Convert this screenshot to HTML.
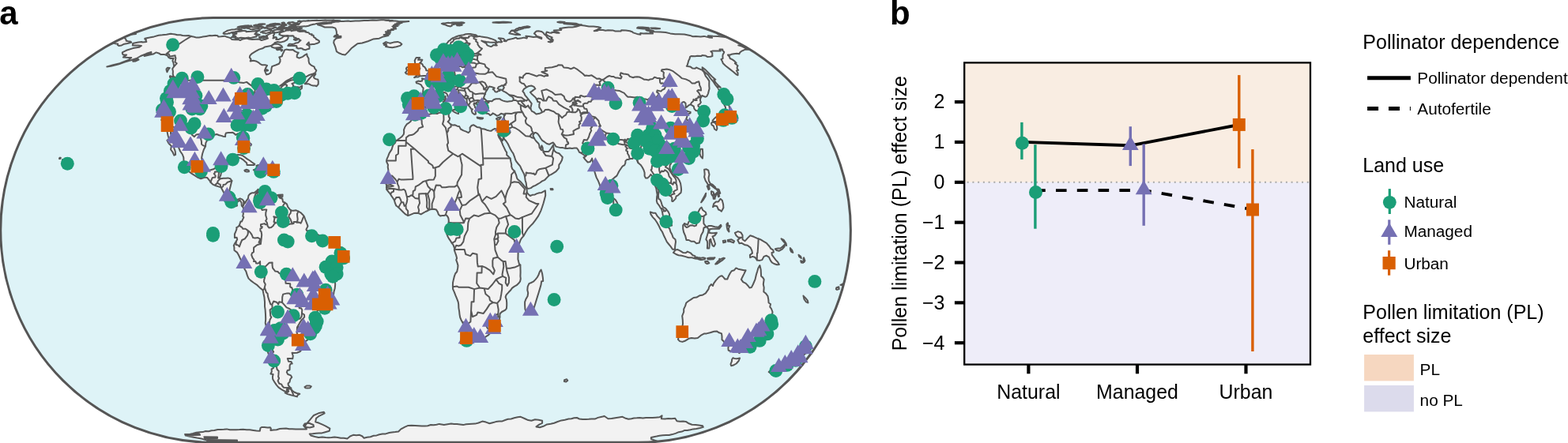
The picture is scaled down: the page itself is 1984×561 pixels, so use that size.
<!DOCTYPE html>
<html lang="en">
<head>
<meta charset="utf-8">
<title>Pollen limitation: study sites and effect sizes</title>
<style>
html,body{margin:0;padding:0;background:#fff;}
body{width:1984px;height:561px;overflow:hidden;font-family:"Liberation Sans",Arial,Helvetica,sans-serif;}
svg{display:block;}
svg text{font-family:"Liberation Sans",Arial,Helvetica,sans-serif;fill:#000;}
</style>
</head>
<body>
<svg width="1984" height="561" viewBox="0 0 1984 561" role="img" aria-label="World map of study sites by land use and chart of pollen limitation effect size">
<defs><clipPath id="globe"><path d="M269.65 22.55 L807.45 22.55 A268.9 268.9 0 0 1 807.45 560.35 L269.65 560.35 A268.9 268.9 0 0 1 269.65 22.55 Z"/></clipPath></defs>
<rect width="1984" height="561" fill="#fff"/>
<path d="M269.65 22.55 L807.45 22.55 A268.9 268.9 0 0 1 807.45 560.35 L269.65 560.35 A268.9 268.9 0 0 1 269.65 22.55 Z" fill="#DEF3F7"/>
<g clip-path="url(#globe)">
<path d="M522.3 147.4 L524.0 147.1 L526.1 149.6 L530.3 149.3 L533.0 150.0 L535.2 148.2 L537.7 147.1 L541.3 144.9 L544.0 144.5 L546.8 143.8 L549.5 143.4 L553.1 144.1 L555.8 142.7 L558.5 142.7 L561.8 143.4 L565.4 141.9 L566.8 143.8 L568.7 142.7 L567.7 145.2 L567.8 147.8 L569.2 149.6 L568.5 152.2 L566.6 154.1 L568.3 155.6 L569.8 157.1 L572.9 158.6 L575.4 158.2 L578.5 159.7 L581.1 160.1 L582.9 163.5 L586.4 165.4 L589.8 166.6 L592.7 168.1 L594.8 165.8 L594.6 161.6 L596.7 159.0 L599.1 158.2 L603.5 160.9 L607.2 161.6 L609.3 163.1 L613.0 163.5 L615.9 164.7 L618.7 165.4 L621.6 165.8 L623.4 164.3 L625.6 163.1 L628.1 163.5 L629.3 164.3 L631.4 165.0 L633.6 165.0 L634.9 164.3 L637.3 171.2 L636.4 176.6 L636.0 178.1 L633.8 175.8 L632.1 173.1 L630.7 169.6 L630.2 170.8 L631.3 173.9 L633.3 177.0 L634.7 179.7 L636.2 183.6 L637.9 187.1 L639.6 190.7 L641.2 193.1 L641.2 196.3 L643.7 198.6 L645.6 200.6 L646.4 204.7 L647.3 208.7 L647.1 210.7 L648.2 213.9 L651.0 216.8 L653.1 221.7 L654.2 225.8 L655.8 227.8 L658.9 230.3 L661.7 233.6 L663.9 236.4 L666.1 238.5 L666.8 241.4 L666.6 243.5 L668.5 245.9 L670.9 248.0 L673.5 246.8 L676.8 246.4 L679.4 245.1 L682.3 244.3 L685.3 243.9 L687.6 242.6 L689.9 241.4 L690.1 244.7 L690.2 247.6 L688.9 252.6 L687.6 257.2 L686.0 262.2 L684.6 266.3 L683.2 269.3 L681.2 273.4 L677.4 278.9 L674.5 282.7 L670.9 286.4 L667.6 290.2 L665.2 294.0 L663.4 297.3 L661.6 299.8 L659.8 301.9 L658.6 304.0 L657.4 307.4 L656.4 310.3 L655.5 312.4 L654.2 316.6 L655.6 319.9 L655.5 324.1 L655.4 328.2 L656.2 331.6 L657.0 334.5 L658.4 336.1 L658.5 340.7 L658.6 344.8 L658.4 349.8 L658.8 353.0 L658.1 356.3 L656.2 358.8 L653.7 361.2 L650.6 362.9 L647.9 364.9 L646.3 367.3 L643.8 369.8 L640.6 373.4 L639.6 376.2 L640.8 379.4 L641.2 383.1 L641.2 387.0 L640.9 390.6 L639.3 392.6 L634.8 395.0 L632.6 397.3 L632.3 400.5 L632.1 404.0 L630.9 407.5 L629.3 409.4 L627.1 411.7 L625.4 414.8 L623.5 418.2 L620.7 421.3 L617.9 424.3 L614.9 426.2 L612.2 428.1 L609.9 428.8 L607.4 429.2 L603.8 428.8 L601.0 429.2 L598.2 430.3 L595.4 430.7 L593.9 431.8 L592.0 430.7 L590.7 429.5 L589.6 429.2 L589.6 425.8 L588.6 423.9 L589.8 421.3 L589.2 418.2 L587.6 414.8 L586.7 411.7 L585.4 408.3 L583.8 405.9 L582.2 402.0 L581.5 398.1 L581.1 394.2 L580.4 390.2 L580.2 385.4 L579.7 382.3 L578.1 378.2 L576.4 374.2 L574.8 369.8 L573.1 366.1 L572.9 362.9 L573.0 358.0 L573.9 353.9 L574.9 349.8 L576.1 346.5 L578.2 344.0 L579.2 339.4 L579.5 336.1 L578.4 332.4 L577.2 329.1 L578.1 327.0 L577.0 322.8 L575.8 319.5 L574.9 316.6 L575.2 314.5 L574.3 312.4 L573.8 310.7 L572.0 308.2 L569.9 304.9 L567.8 301.9 L566.3 299.0 L564.8 294.8 L566.0 292.3 L566.6 289.4 L567.2 286.8 L567.5 283.1 L567.8 279.7 L567.5 276.8 L566.9 275.1 L565.1 272.6 L563.9 272.2 L561.8 273.0 L559.4 273.0 L557.1 273.4 L555.0 271.8 L553.8 268.4 L552.0 265.5 L549.0 264.7 L546.0 265.1 L543.3 265.5 L541.5 266.8 L538.5 268.0 L535.6 269.7 L532.6 271.4 L529.6 270.1 L526.6 269.7 L523.6 270.1 L520.6 271.4 L517.7 272.6 L515.9 273.0 L513.2 271.4 L510.8 269.3 L507.8 266.3 L505.8 264.3 L504.3 262.6 L501.3 260.5 L499.9 257.2 L499.0 253.8 L497.5 251.3 L495.5 248.4 L494.1 245.9 L491.7 243.1 L489.7 240.6 L488.9 237.3 L489.2 234.8 L487.8 231.1 L487.0 229.9 L488.8 227.0 L490.3 224.1 L491.0 219.6 L491.4 215.6 L490.7 211.5 L491.0 208.7 L489.1 204.7 L489.5 201.4 L491.1 197.9 L492.4 194.3 L493.9 191.9 L495.7 189.1 L496.7 185.6 L497.6 183.2 L499.7 181.3 L501.2 178.1 L503.0 177.0 L505.9 175.0 L508.8 172.7 L510.8 170.0 L511.2 167.3 L511.0 164.3 L512.5 160.5 L514.9 157.1 L517.4 155.6 L519.7 153.7 L521.1 150.4Z M684.6 341.5 L686.1 346.5 L686.9 351.8 L687.2 355.9 L685.1 356.3 L684.5 360.8 L683.3 364.9 L681.7 370.2 L680.1 375.4 L678.5 380.6 L676.8 386.2 L675.1 391.4 L673.7 394.2 L670.6 395.4 L668.5 396.5 L665.8 395.0 L664.4 391.4 L664.1 386.2 L664.1 382.3 L665.3 379.0 L667.6 375.0 L668.2 371.0 L667.3 367.3 L667.7 362.9 L669.4 359.2 L672.1 358.0 L674.8 356.7 L677.6 353.9 L679.9 351.0 L681.6 347.7 L682.9 344.0Z M696.6 238.9 L699.2 238.9 L699.6 240.2 L696.9 240.2Z M300.7 34.5 L302.8 34.9 L302.7 34.8 L305.8 34.8 L309.8 34.3 L310.8 34.1 L313.6 33.8 L318.2 32.6 L314.8 32.8 L314.5 32.2 L311.6 32.6 L310.4 32.4 L307.1 32.9 L304.8 33.3 L302.5 33.7Z M321.1 32.2 L326.1 32.5 L331.5 31.8 L330.0 31.2 L323.7 31.5Z M326.9 31.0 L331.3 31.1 L335.3 30.6 L332.6 30.2 L328.3 30.4Z M340.6 31.5 L341.2 31.6 L345.1 31.8 L346.6 31.8 L347.5 31.9 L350.3 31.3 L353.4 31.2 L353.9 30.2 L351.8 29.9 L349.7 30.0 L348.3 29.8 L344.4 30.3 L343.1 30.4Z M355.3 31.6 L357.9 31.8 L362.1 31.1 L360.7 30.4 L356.2 31.0Z M356.1 32.2 L360.5 32.4 L362.6 31.8 L359.1 31.6Z M350.1 35.6 L351.7 36.4 L354.9 36.2 L355.9 35.3 L353.1 34.9Z M376.7 39.2 L378.8 39.9 L384.1 39.7 L385.9 39.0 L382.7 38.3 L378.5 38.5Z M371.8 50.0 L374.1 51.1 L376.2 50.4 L375.8 49.1 L373.2 49.1Z M349.7 62.3 L351.2 63.3 L355.2 62.6 L355.0 61.3 L351.6 61.3Z M355.3 63.3 L356.0 64.6 L357.4 63.6 L356.8 62.6Z M335.5 88.9 L337.5 89.8 L339.1 89.2 L337.6 88.2Z M323.7 39.0 L325.8 39.5 L328.6 38.6 L327.1 38.1Z M305.8 35.3 L307.7 35.7 L310.4 34.9 L308.8 34.5Z M333.7 35.4 L335.2 35.9 L337.3 35.1 L336.2 34.6Z M337.5 32.5 L338.9 32.9 L341.3 32.2 L340.4 31.8Z M356.5 29.0 L358.1 29.3 L359.9 28.8 L358.6 28.6Z M344.1 32.1 L346.6 32.2 L348.8 31.6 L346.6 31.5Z M422.6 46.4 L426.5 46.8 L428.7 45.7 L426.8 44.7 L423.8 45.1Z M75.4 199.8 L76.8 199.8 L76.4 201.0 L75.0 201.0Z M79.1 201.9 L80.7 202.3 L80.3 203.5 L78.9 203.5Z M82.9 204.7 L84.8 205.1 L84.2 206.3 L82.8 205.9Z M523.7 146.3 L521.5 144.9 L519.7 142.3 L516.9 143.0 L514.2 143.0 L514.6 139.4 L513.0 136.9 L514.2 133.6 L514.9 130.1 L515.3 126.9 L514.8 124.1 L514.1 121.7 L516.6 120.3 L518.0 119.0 L520.6 119.6 L523.5 119.6 L526.6 120.3 L529.3 120.0 L531.9 120.7 L534.1 120.3 L535.1 117.2 L535.4 113.9 L535.7 111.5 L534.1 109.9 L532.9 107.5 L531.3 106.6 L528.8 105.6 L527.0 105.2 L526.5 103.6 L529.1 102.6 L531.6 103.0 L533.9 102.6 L534.5 100.7 L534.0 99.4 L535.5 99.8 L537.8 100.7 L539.1 100.1 L540.6 98.8 L542.3 97.8 L542.8 95.6 L544.8 95.0 L546.8 94.1 L548.5 92.5 L549.8 91.0 L550.4 89.2 L552.1 88.2 L554.6 87.6 L556.3 87.3 L558.3 87.3 L559.7 86.4 L560.4 85.2 L559.5 83.2 L558.4 81.4 L558.3 78.8 L559.2 77.1 L561.5 76.5 L563.8 75.4 L563.5 77.4 L563.4 78.8 L564.8 79.1 L563.2 80.5 L562.4 82.3 L562.0 83.5 L563.0 84.7 L565.3 86.1 L567.5 85.8 L569.4 84.9 L571.6 84.9 L573.5 86.4 L575.4 85.8 L578.3 85.2 L580.8 84.1 L583.8 84.1 L584.9 85.2 L587.1 84.9 L587.4 83.5 L589.4 82.6 L589.7 80.8 L589.1 78.8 L589.7 76.5 L591.7 75.4 L594.4 77.1 L596.5 77.1 L596.6 74.8 L596.3 73.5 L594.3 72.9 L593.8 71.3 L596.0 70.4 L599.0 70.2 L601.9 70.4 L604.2 70.4 L606.2 69.1 L608.6 69.4 L607.3 68.6 L604.7 67.5 L602.0 67.8 L599.0 68.0 L596.8 68.6 L593.4 69.4 L591.8 69.1 L589.7 67.8 L587.8 66.4 L587.8 63.8 L586.7 61.8 L587.8 60.6 L589.8 59.3 L592.1 57.6 L594.0 56.4 L594.6 55.2 L591.8 54.5 L589.2 54.5 L587.2 55.5 L586.0 57.4 L585.3 59.3 L582.6 60.3 L580.1 61.8 L578.5 63.1 L578.1 65.1 L578.4 67.2 L580.4 68.3 L582.5 69.6 L580.9 71.3 L578.7 72.6 L578.3 75.1 L578.1 77.4 L577.1 79.4 L574.8 80.0 L573.3 81.4 L571.4 82.0 L569.9 81.4 L569.2 79.4 L567.3 76.5 L566.4 74.6 L565.0 72.1 L563.7 70.7 L563.3 71.5 L561.4 72.1 L559.4 73.5 L557.1 74.3 L554.7 74.3 L552.3 72.9 L551.5 71.0 L550.7 68.6 L550.1 66.4 L550.0 64.4 L551.8 63.1 L554.0 61.8 L556.2 60.8 L558.4 59.8 L560.5 58.8 L562.6 57.4 L564.7 55.7 L566.2 54.1 L567.5 52.2 L569.7 50.9 L570.7 49.6 L572.7 48.3 L575.0 47.4 L577.5 46.2 L580.5 45.3 L583.4 44.7 L586.5 44.3 L589.3 43.3 L592.3 43.1 L595.4 43.1 L598.7 43.7 L602.1 44.3 L603.5 45.3 L600.5 45.7 L603.8 46.2 L606.9 45.9 L609.3 46.6 L612.6 47.0 L616.0 47.4 L619.6 48.5 L623.3 49.6 L626.8 51.1 L628.4 52.7 L626.8 53.6 L623.6 53.8 L619.5 53.4 L615.4 52.9 L611.5 52.2 L609.3 51.6 L612.3 53.4 L615.2 54.8 L616.3 57.1 L618.2 58.1 L621.2 59.1 L622.9 58.3 L624.2 56.9 L627.3 57.4 L628.8 57.4 L627.0 55.5 L628.6 54.1 L630.8 53.1 L633.8 53.6 L635.2 53.1 L633.8 51.1 L632.3 49.1 L630.8 48.3 L633.5 48.5 L637.1 49.1 L639.1 50.9 L637.5 52.0 L640.4 52.2 L642.1 50.4 L645.9 49.6 L649.6 48.7 L652.8 47.6 L654.8 49.1 L657.1 48.7 L660.0 48.3 L662.8 47.6 L666.6 48.5 L667.2 47.0 L665.2 45.7 L669.0 45.9 L675.0 47.0 L678.9 46.6 L682.1 47.8 L685.2 49.1 L685.3 47.8 L682.1 46.6 L678.9 45.7 L677.6 43.7 L675.9 42.4 L677.6 40.5 L678.7 39.5 L681.3 39.2 L685.1 39.9 L687.7 41.8 L688.6 43.3 L691.1 45.3 L692.3 47.4 L695.2 49.6 L697.6 51.1 L696.5 52.5 L693.6 52.9 L696.3 53.6 L699.3 52.5 L699.8 50.4 L697.5 48.5 L698.7 47.4 L693.6 45.3 L690.7 43.3 L691.4 41.4 L691.8 40.5 L694.9 41.4 L697.9 41.8 L698.3 40.8 L701.6 41.0 L704.5 41.8 L707.6 41.8 L706.3 41.0 L701.9 39.9 L700.8 38.6 L705.3 38.3 L710.1 38.1 L710.4 36.9 L708.2 36.1 L711.4 35.6 L715.3 34.9 L719.3 34.5 L724.2 34.5 L728.9 33.8 L731.3 33.1 L735.2 31.9 L739.6 32.5 L745.2 33.4 L751.0 33.4 L757.4 34.2 L760.2 35.3 L758.3 36.1 L755.8 37.4 L754.3 38.3 L751.7 39.2 L755.5 39.0 L757.7 37.9 L763.0 38.1 L766.2 38.8 L769.3 38.3 L775.9 38.6 L778.5 39.5 L785.6 39.5 L786.2 38.3 L791.9 38.6 L797.0 39.2 L800.4 40.5 L801.1 41.4 L805.9 42.9 L810.4 43.7 L810.3 42.0 L814.1 42.4 L817.9 42.2 L822.4 42.4 L826.1 42.4 L822.5 40.6 L823.6 39.9 L828.4 40.3 L835.3 40.6 L842.2 41.0 L848.1 42.4 L854.2 43.3 L859.3 43.3 L866.0 43.5 L873.0 44.9 L876.6 46.2 L880.3 45.9 L886.5 46.4 L890.9 45.9 L897.0 47.4 L901.1 47.8 L895.9 45.3 L902.0 45.7 L908.7 45.9 L915.8 46.8 L920.8 47.6 L938.1 56.4 L937.1 57.4 L934.2 57.4 L938.6 58.6 L942.6 60.6 L947.2 62.8 L942.9 62.6 L940.3 63.8 L938.0 64.9 L936.2 66.4 L935.4 68.3 L932.3 67.8 L928.4 68.3 L925.2 68.8 L923.9 69.6 L920.9 69.6 L923.0 71.8 L923.7 74.0 L926.6 75.4 L929.4 77.4 L931.6 79.7 L929.9 80.3 L933.6 83.2 L932.8 84.7 L932.6 86.7 L934.2 88.9 L931.9 89.5 L933.6 92.2 L933.6 95.3 L931.1 93.8 L927.6 90.7 L923.6 87.6 L918.0 83.2 L914.9 80.3 L913.8 77.4 L912.4 75.1 L914.6 74.0 L914.4 71.0 L914.8 68.6 L915.7 67.5 L916.3 65.9 L913.7 63.3 L914.4 62.6 L910.5 62.6 L911.7 64.6 L907.1 64.6 L904.8 64.6 L901.3 64.6 L899.3 65.1 L901.3 67.0 L901.3 69.9 L901.5 71.0 L899.0 71.8 L895.3 72.1 L892.6 70.4 L888.5 69.9 L887.4 71.0 L882.4 70.7 L879.5 71.3 L874.5 71.0 L873.1 71.8 L872.5 74.6 L871.3 76.8 L870.5 79.7 L869.7 82.6 L868.8 83.8 L873.3 84.4 L876.1 86.4 L879.6 86.7 L881.0 85.5 L885.1 87.3 L888.2 88.6 L890.8 91.3 L891.7 93.5 L892.8 96.3 L895.1 99.1 L897.4 102.6 L897.3 105.9 L897.3 108.9 L897.6 112.2 L896.7 115.6 L896.0 118.6 L894.2 122.1 L892.0 122.7 L888.3 121.0 L887.4 122.7 L886.6 124.1 L886.1 125.5 L886.0 127.6 L886.9 129.4 L885.6 131.5 L883.4 132.9 L883.5 134.7 L886.8 136.9 L889.8 139.8 L893.1 143.0 L895.0 146.7 L895.5 149.6 L893.6 150.8 L891.7 151.5 L889.4 152.6 L888.1 150.4 L887.4 147.4 L885.6 144.1 L885.4 141.9 L883.1 140.5 L880.5 140.1 L878.4 137.6 L877.8 134.7 L875.5 133.3 L873.9 132.2 L871.4 133.3 L869.6 135.1 L867.6 136.5 L867.7 134.0 L867.5 130.8 L865.5 129.0 L863.6 129.4 L861.9 131.5 L861.3 132.9 L860.4 135.1 L857.9 135.4 L858.6 137.6 L861.6 139.4 L863.9 141.6 L866.7 141.6 L868.2 140.1 L870.9 141.2 L873.7 141.9 L873.5 143.4 L870.7 144.5 L869.6 146.3 L869.1 148.5 L868.2 150.4 L869.8 152.2 L872.2 153.4 L875.6 157.9 L878.6 160.5 L880.6 162.8 L880.1 164.7 L881.7 165.8 L880.4 167.7 L878.5 168.1 L881.7 169.3 L883.4 170.0 L883.6 173.1 L884.2 175.8 L882.7 177.4 L882.1 180.1 L881.5 182.8 L881.5 185.6 L880.7 187.9 L879.9 190.3 L878.1 192.3 L876.4 194.7 L875.5 196.7 L872.8 197.9 L870.1 198.6 L869.0 199.8 L867.2 199.8 L865.0 201.4 L862.3 202.7 L860.0 203.9 L859.8 207.1 L858.2 206.7 L857.8 203.1 L855.7 202.7 L853.2 201.9 L851.6 202.7 L849.7 204.7 L849.0 207.1 L847.6 209.1 L847.4 212.7 L848.9 216.0 L851.1 218.8 L853.4 221.7 L855.4 223.7 L857.5 225.4 L859.4 228.2 L861.1 232.3 L861.7 236.4 L862.1 240.2 L861.6 243.9 L859.8 245.5 L857.6 247.6 L855.6 248.4 L855.0 251.3 L853.1 253.4 L851.4 255.1 L850.2 254.7 L850.4 250.5 L848.8 248.4 L846.6 247.6 L844.7 245.9 L844.1 243.5 L842.4 241.0 L839.7 238.5 L837.1 238.5 L836.7 235.6 L834.9 235.2 L834.2 236.4 L834.6 240.2 L833.7 243.1 L832.9 247.2 L833.3 251.8 L835.2 252.6 L836.6 255.9 L837.8 260.1 L839.4 262.6 L841.6 263.4 L843.5 265.5 L845.7 268.4 L847.1 271.4 L847.2 275.5 L847.6 279.7 L849.2 283.1 L850.1 285.6 L847.8 286.0 L845.6 283.9 L842.6 281.0 L841.0 278.0 L839.5 275.5 L838.7 272.2 L838.0 268.4 L837.2 265.1 L835.6 263.0 L833.9 260.1 L831.6 257.2 L830.8 254.3 L831.1 250.5 L831.7 246.8 L831.0 243.1 L830.3 238.5 L828.7 234.8 L827.9 230.7 L826.1 226.6 L825.3 222.9 L823.3 220.9 L822.1 222.9 L819.5 225.4 L816.9 225.4 L815.6 222.9 L815.6 218.8 L814.5 215.2 L812.5 211.5 L810.5 208.7 L807.5 206.3 L806.1 203.1 L804.2 199.0 L800.9 198.3 L800.5 201.0 L797.6 201.0 L795.4 201.9 L793.4 201.9 L791.4 203.9 L791.3 206.7 L790.2 209.1 L787.5 210.7 L785.6 213.5 L783.4 216.8 L781.3 220.9 L780.1 222.9 L777.4 224.9 L775.0 227.0 L774.8 231.1 L775.5 235.2 L775.9 239.3 L775.0 243.1 L775.4 248.0 L773.8 250.9 L773.1 253.0 L771.1 254.3 L769.5 257.6 L767.6 256.3 L765.9 253.0 L764.8 249.7 L763.4 245.5 L761.6 241.4 L759.7 237.3 L758.5 233.1 L756.9 229.0 L754.7 224.9 L753.4 220.9 L752.0 216.0 L751.2 211.9 L750.6 207.5 L749.8 203.9 L749.1 200.6 L748.2 202.7 L746.5 205.1 L743.7 205.5 L740.3 201.9 L738.5 199.4 L740.6 198.3 L742.1 196.7 L739.5 196.7 L736.6 194.7 L735.0 193.5 L732.9 192.7 L731.6 189.9 L729.8 187.5 L726.6 187.5 L723.8 187.9 L720.9 187.5 L718.1 187.9 L715.2 187.9 L712.2 187.1 L709.4 187.1 L706.4 186.4 L703.4 185.6 L701.5 182.4 L699.8 180.5 L697.1 181.7 L695.0 182.8 L692.1 182.0 L688.9 179.7 L686.1 177.8 L684.0 175.0 L682.5 172.3 L680.3 169.3 L678.2 168.1 L676.5 168.1 L675.3 169.6 L674.4 171.6 L675.4 174.3 L677.1 177.0 L678.9 179.3 L681.4 181.7 L682.3 184.0 L682.6 186.8 L684.3 189.1 L684.8 186.0 L685.5 184.4 L686.7 187.1 L686.8 190.3 L688.4 191.9 L691.3 191.9 L694.2 191.9 L695.7 190.3 L697.6 187.5 L699.3 184.8 L700.0 183.6 L700.5 187.5 L701.2 190.7 L703.8 193.1 L707.4 194.3 L710.1 197.1 L711.8 199.0 L711.0 202.7 L709.1 206.3 L707.3 208.7 L707.2 212.7 L705.9 214.3 L703.5 217.2 L700.4 219.2 L697.6 220.9 L694.8 222.1 L692.1 224.9 L689.4 227.8 L685.9 229.4 L683.1 231.5 L680.3 233.1 L677.4 234.8 L674.5 236.0 L671.7 238.1 L668.7 238.9 L667.2 238.5 L666.2 236.0 L665.7 231.9 L664.6 228.2 L664.1 224.1 L663.3 220.9 L661.6 217.6 L659.9 214.3 L658.2 210.3 L655.7 207.5 L653.4 204.7 L652.1 202.3 L650.9 198.3 L649.4 194.3 L647.4 191.5 L645.8 188.7 L644.3 185.6 L642.6 182.0 L640.3 178.5 L638.1 176.2 L637.3 173.9 L637.6 171.2 L637.3 171.2 L634.9 164.3 L636.0 161.2 L636.3 158.6 L636.6 156.7 L637.5 154.1 L638.0 151.9 L637.6 148.5 L637.9 146.7 L637.9 144.5 L636.3 144.5 L634.0 143.8 L631.7 145.6 L628.8 146.7 L626.4 144.9 L623.5 143.4 L622.3 144.9 L620.2 146.0 L618.1 144.1 L615.9 143.8 L613.9 143.0 L613.0 140.1 L610.7 138.3 L611.2 135.8 L609.7 134.0 L609.2 132.2 L611.2 130.8 L613.9 130.8 L616.6 130.8 L618.6 129.7 L616.6 128.7 L616.8 128.0 L619.8 128.0 L622.5 128.3 L624.6 126.2 L627.4 125.2 L630.1 125.2 L632.2 125.2 L634.3 126.6 L636.6 127.6 L639.1 128.3 L641.8 128.7 L645.0 128.3 L647.9 128.0 L649.8 126.6 L649.7 124.5 L648.0 122.4 L645.3 121.0 L642.8 119.0 L639.8 116.9 L637.2 115.6 L635.1 114.2 L636.7 112.9 L637.9 110.8 L636.5 109.2 L638.1 107.9 L639.8 107.5 L637.3 107.9 L635.1 108.2 L633.2 109.2 L630.8 110.2 L629.7 111.9 L631.3 113.2 L633.7 113.5 L632.4 114.9 L630.3 115.2 L628.5 116.6 L626.6 116.2 L625.4 114.2 L623.7 113.2 L625.8 111.5 L623.9 110.8 L621.6 109.9 L619.0 109.5 L617.7 111.5 L616.2 113.9 L615.2 115.6 L614.1 117.6 L613.4 120.0 L612.6 122.1 L612.0 123.8 L613.3 125.5 L615.7 127.6 L616.3 128.3 L614.2 128.7 L612.4 129.0 L610.6 130.1 L609.4 131.5 L608.7 130.1 L607.0 129.4 L604.3 129.0 L602.5 130.1 L603.8 131.9 L601.9 131.5 L599.9 130.4 L599.5 132.2 L600.8 134.4 L601.0 136.1 L603.3 138.3 L604.0 140.1 L602.6 139.8 L601.7 141.2 L602.0 144.5 L600.3 144.9 L598.9 143.8 L597.7 143.0 L596.7 140.1 L597.9 138.3 L596.2 137.9 L595.0 136.1 L593.8 134.4 L592.6 132.9 L591.1 131.2 L590.6 128.7 L590.7 126.2 L589.8 125.2 L587.8 123.8 L585.8 122.4 L583.6 121.0 L581.4 119.6 L579.2 118.3 L577.4 115.6 L576.2 113.9 L575.0 114.9 L574.1 113.9 L574.6 112.9 L572.7 112.5 L570.7 113.5 L571.1 115.6 L571.2 117.6 L572.9 119.0 L574.5 120.0 L575.8 122.7 L577.7 124.8 L579.9 125.5 L581.5 125.5 L581.1 126.9 L583.6 128.0 L585.5 129.0 L587.2 130.4 L588.4 131.9 L587.7 132.6 L586.5 131.2 L584.6 130.4 L583.6 132.2 L583.4 133.6 L584.9 135.1 L584.4 136.5 L582.9 138.3 L581.9 139.8 L581.3 139.0 L582.0 136.9 L582.1 134.7 L580.9 132.2 L579.2 131.5 L578.3 130.1 L576.7 129.4 L575.3 128.0 L573.4 127.6 L571.4 125.9 L569.7 124.1 L568.1 123.4 L566.4 121.7 L565.8 119.6 L564.9 118.3 L563.0 117.2 L561.4 116.9 L559.9 118.6 L558.3 119.0 L556.6 120.7 L554.7 121.4 L552.6 120.7 L550.5 120.3 L548.9 120.0 L547.0 121.4 L546.5 123.4 L547.1 125.5 L544.7 127.3 L542.6 128.0 L540.7 129.4 L539.1 131.5 L537.7 134.0 L538.0 136.1 L538.8 136.9 L537.2 138.3 L536.4 140.5 L534.4 141.6 L532.8 143.8 L530.3 144.1 L527.6 144.1 L525.9 144.9 L524.2 146.0Z M156.3 47.6 L158.3 48.7 L159.5 50.2 L159.7 51.8 L162.1 52.2 L165.6 52.7 L166.1 53.8 L161.4 55.0 L157.3 55.7 L153.8 57.4 L150.3 57.9 L148.8 56.9 L149.1 55.5 L145.6 55.2 L145.1 54.3 L139.0 56.4Z M524.1 98.2 L526.4 97.5 L529.2 97.5 L531.0 96.3 L533.5 96.3 L536.0 96.0 L539.1 96.0 L541.1 95.0 L542.1 94.4 L540.3 93.8 L541.3 92.8 L542.8 90.7 L541.8 89.5 L539.3 89.2 L539.0 87.6 L538.1 86.1 L537.1 84.7 L535.4 83.8 L534.7 81.7 L533.5 80.5 L530.8 80.3 L532.3 78.8 L533.5 77.4 L534.3 75.7 L531.4 75.4 L529.0 75.7 L530.2 74.0 L531.2 72.9 L527.9 72.9 L526.7 72.9 L525.7 74.8 L524.7 76.8 L525.1 78.8 L525.2 80.8 L525.9 82.0 L526.8 83.5 L529.0 83.8 L530.7 83.5 L530.0 84.9 L531.4 86.4 L530.9 87.9 L528.2 88.2 L527.1 89.5 L528.3 91.0 L525.8 92.5 L527.8 93.5 L530.3 94.1 L530.8 94.7 L527.7 95.0 L525.4 97.2Z M523.6 91.6 L522.3 91.6 L519.8 92.5 L517.3 93.5 L514.3 93.5 L512.8 91.9 L514.4 90.4 L515.0 88.6 L513.9 87.3 L514.5 85.5 L517.7 84.7 L518.6 82.9 L520.8 82.3 L523.5 82.6 L524.8 84.4 L523.6 86.1 L523.5 88.2Z M572.6 139.4 L575.3 138.7 L578.1 139.4 L581.0 138.7 L580.1 141.2 L580.0 144.1 L577.7 143.4 L574.9 141.9 L572.7 140.5Z M560.6 129.0 L563.2 128.0 L564.6 130.1 L564.5 134.7 L563.0 135.8 L561.3 135.1 L561.5 131.5Z M561.5 124.1 L563.5 121.7 L563.9 125.2 L563.2 127.3 L561.8 126.6Z M603.7 148.5 L606.2 148.9 L609.0 149.3 L611.2 149.6 L610.5 150.4 L606.9 150.4 L604.0 149.6Z M627.9 150.4 L629.7 149.3 L632.4 148.5 L634.0 148.2 L632.6 150.4 L631.3 151.5 L629.2 151.9Z M565.2 81.1 L567.5 80.0 L569.1 81.1 L568.3 82.9 L565.8 82.6Z M582.1 76.5 L583.8 74.8 L583.5 76.3 L582.4 77.4Z M644.3 42.2 L648.0 42.9 L652.8 43.9 L658.2 44.1 L654.9 42.5 L651.5 40.8 L650.2 39.2 L646.9 38.8 L645.4 40.8Z M647.7 38.6 L649.4 38.5 L650.6 38.5 L652.2 37.7 L653.0 36.7 L655.1 36.0 L656.4 35.3 L657.6 34.9 L660.0 34.8 L661.9 34.2 L662.9 34.0 L665.6 33.6 L667.2 33.3 L668.7 33.4 L670.6 34.2 L669.5 34.7 L666.9 35.1 L665.2 35.2 L662.7 35.4 L661.7 36.3 L660.5 36.4 L659.5 36.7 L656.9 37.5 L655.9 37.8 L655.1 38.4 L654.0 39.0 L653.1 38.8 L651.0 39.0 L649.3 38.6Z M558.8 29.9 L560.5 29.5 L563.4 29.4 L564.1 29.2 L567.4 28.8 L568.5 28.9 L572.3 29.3 L573.2 29.3 L574.9 29.5 L578.4 30.4 L575.2 30.5 L574.0 31.1 L571.6 31.6 L571.8 32.6 L570.1 33.4 L566.7 32.8 L566.0 32.5 L563.9 31.5 L563.2 31.3 L560.9 30.7Z M571.2 28.8 L573.1 28.4 L575.4 28.6 L576.5 28.5 L578.2 28.4 L579.7 28.4 L581.9 28.5 L583.7 28.3 L586.2 28.6 L587.6 28.9 L586.6 29.2 L584.5 29.8 L583.8 29.5 L580.7 30.1 L579.0 29.8 L576.2 30.0 L576.0 29.5 L573.4 29.5Z M577.6 30.8 L581.6 31.2 L584.7 31.8 L582.1 32.4 L578.3 32.2Z M623.5 28.6 L628.2 28.0 L632.5 27.9 L636.8 27.8 L642.5 28.0 L647.0 28.6 L643.5 28.6 L640.0 28.7 L635.6 28.8 L631.2 28.9 L627.4 28.7Z M713.4 29.9 L716.6 28.9 L720.9 29.2 L728.8 29.8 L732.8 31.1 L728.1 31.5 L722.9 30.8 L718.1 30.4Z M705.3 28.0 L708.6 27.6 L714.6 28.1 L714.2 28.7 L708.8 28.7Z M726.2 31.5 L730.3 31.2 L735.9 31.2 L734.9 31.6 L729.9 31.9Z M806.1 35.6 L807.3 34.5 L813.1 34.5 L821.0 35.3 L821.4 36.2 L817.7 36.3 L814.0 36.4 L809.3 36.1Z M823.3 35.4 L829.2 35.4 L835.2 36.2 L830.1 36.6 L825.0 36.1Z M817.4 37.9 L822.4 37.9 L826.7 39.0 L822.1 39.2 L818.9 38.8Z M907.7 42.9 L908.7 42.4 L911.6 43.5 L909.7 43.7Z M168.4 42.4 L171.5 42.4 L172.1 42.9 L167.6 43.5 L165.5 43.5Z M888.6 85.2 L892.9 88.6 L896.4 92.2 L900.9 96.9 L905.3 100.7 L903.3 100.7 L905.8 104.9 L909.0 108.2 L911.7 110.8 L907.9 109.2 L908.3 111.5 L904.9 107.2 L902.5 103.3 L898.9 99.1 L896.3 95.3 L892.1 91.6 L888.9 88.2Z M913.9 126.9 L915.7 125.9 L912.2 124.1 L910.8 121.0 L913.0 120.7 L911.5 117.2 L909.2 113.2 L914.2 116.2 L919.0 118.3 L921.5 117.6 L923.8 120.7 L920.7 122.1 L920.6 125.2 L916.3 123.4 L913.6 123.4Z M916.8 127.3 L919.2 130.4 L922.4 133.6 L923.5 137.9 L923.3 140.1 L924.7 143.4 L925.2 146.0 L926.7 147.8 L926.1 150.0 L924.7 149.3 L923.9 151.1 L922.0 150.0 L921.5 151.9 L918.7 151.9 L916.9 150.4 L918.1 153.0 L917.2 156.0 L914.5 154.8 L913.2 151.9 L910.2 151.5 L908.1 153.0 L905.8 154.1 L902.5 154.1 L901.6 152.6 L903.6 150.4 L905.9 148.2 L909.5 148.2 L913.1 148.2 L912.9 145.6 L913.3 143.0 L913.5 141.2 L915.1 143.8 L917.1 142.3 L918.0 139.4 L918.0 135.8 L916.2 132.2 L914.6 129.4 L915.1 128.0Z M907.0 154.8 L909.1 153.4 L912.2 153.4 L912.3 155.6 L910.5 156.0 L910.0 158.6 L908.0 157.1Z M900.0 156.0 L901.5 154.5 L904.8 155.6 L906.9 158.6 L907.4 163.1 L906.4 165.0 L904.1 163.5 L902.9 159.7 L900.6 158.2Z M886.4 188.7 L888.9 188.7 L889.2 192.7 L889.3 196.7 L888.9 200.6 L886.5 197.9 L885.5 194.3 L885.9 191.1Z M856.1 211.9 L857.8 208.7 L860.9 208.3 L862.5 210.3 L861.4 213.9 L859.1 215.6 L856.5 214.3Z M775.9 250.9 L778.7 253.0 L781.0 256.7 L782.2 260.9 L781.4 264.3 L778.9 266.8 L777.0 265.5 L776.2 261.3 L776.3 256.3Z M890.1 156.3 L891.9 156.0 L891.5 157.1Z M168.1 55.0 L167.8 57.4 L174.8 57.6 L178.9 57.9 L175.9 59.8 L168.3 61.1 L159.9 63.8 L154.8 66.4 L154.9 68.0 L156.2 69.6 L160.1 69.4 L155.9 72.6 L162.6 72.9 L166.2 72.9 L162.5 76.0 L151.6 80.3 L143.2 82.3 L135.3 84.4 L140.4 83.8 L150.3 81.4 L157.9 78.5 L165.8 76.3 L172.7 74.0 L177.9 71.0 L185.5 67.8 L191.3 65.9 L191.3 67.8 L182.6 71.0 L189.0 69.6 L193.8 68.6 L197.6 66.4 L201.7 67.8 L203.6 69.1 L208.3 69.1 L211.7 70.2 L213.5 72.9 L215.4 74.0 L219.7 73.7 L218.3 76.8 L219.4 79.4 L219.9 82.3 L220.2 84.1 L218.2 87.0 L218.9 90.4 L218.7 93.8 L219.4 96.6 L222.3 98.5 L224.3 101.0 L224.0 103.3 L222.7 106.9 L221.6 104.3 L218.7 103.9 L216.6 109.5 L213.6 114.9 L208.8 121.7 L206.5 125.9 L204.0 130.8 L203.3 134.7 L203.8 139.4 L203.7 141.9 L204.2 144.5 L205.0 149.6 L204.2 152.2 L207.5 153.7 L209.3 154.8 L211.2 157.9 L211.1 159.7 L211.2 164.3 L211.8 168.1 L212.7 172.3 L213.9 175.8 L211.4 177.8 L213.6 181.7 L216.8 184.8 L216.1 189.5 L218.5 192.7 L220.4 196.7 L222.1 195.9 L221.7 191.5 L220.3 187.9 L219.9 182.8 L217.9 177.8 L217.6 173.1 L216.0 169.3 L216.1 164.7 L216.7 162.8 L219.9 164.3 L220.5 168.5 L220.4 173.1 L222.1 177.0 L223.3 179.7 L225.1 183.6 L226.2 187.1 L228.0 191.5 L230.8 195.5 L232.3 199.4 L232.5 203.9 L231.0 207.1 L232.4 210.7 L235.4 214.8 L239.1 217.2 L242.3 219.6 L245.5 221.7 L249.8 224.5 L254.2 226.2 L259.2 224.5 L262.1 224.9 L265.1 228.6 L266.6 231.1 L269.3 233.6 L273.2 235.2 L276.9 236.4 L279.3 236.9 L280.3 238.5 L282.3 242.2 L284.1 245.5 L284.1 249.7 L286.4 250.5 L286.8 253.0 L289.6 255.5 L291.6 257.2 L294.6 257.2 L296.2 259.2 L297.6 261.3 L300.0 260.5 L299.3 257.2 L301.5 254.7 L303.7 253.8 L305.6 256.7 L305.7 260.1 L306.5 261.3 L308.1 259.7 L308.7 255.1 L306.7 252.6 L303.8 251.3 L300.8 252.6 L297.7 254.7 L295.4 253.4 L293.4 251.8 L291.3 248.4 L290.3 245.5 L290.5 240.2 L291.8 235.2 L292.8 231.1 L293.4 229.0 L291.3 226.2 L288.5 225.4 L285.5 225.8 L282.6 225.8 L279.6 226.2 L277.3 225.4 L279.1 222.5 L279.9 218.8 L280.7 215.2 L281.6 215.6 L283.2 210.7 L284.0 207.1 L286.3 203.9 L285.3 202.7 L282.1 202.7 L277.6 203.5 L275.5 205.5 L274.6 209.5 L272.6 212.7 L270.0 214.3 L266.4 215.2 L262.5 216.0 L259.9 213.9 L258.1 211.9 L256.9 208.7 L255.6 204.7 L255.2 199.4 L256.1 194.7 L257.8 189.5 L260.0 185.2 L260.4 180.9 L262.5 177.0 L266.0 174.6 L269.4 172.3 L271.2 170.8 L274.2 170.0 L277.3 171.2 L280.0 171.9 L282.6 172.7 L285.1 173.1 L285.1 170.8 L285.9 168.5 L288.9 168.1 L291.7 168.1 L294.6 167.7 L297.0 169.6 L298.1 170.8 L300.7 169.3 L302.4 170.4 L303.8 173.1 L303.2 177.0 L303.0 179.3 L304.0 182.8 L304.4 185.2 L305.6 187.9 L307.6 187.9 L309.0 184.8 L309.8 180.9 L309.4 175.8 L309.2 171.6 L309.1 167.3 L310.5 163.5 L312.3 160.9 L315.4 158.6 L317.8 156.7 L320.4 154.5 L322.1 154.1 L325.6 151.5 L327.5 150.4 L329.8 149.3 L330.1 144.9 L329.5 143.0 L330.3 139.4 L332.2 134.7 L332.2 138.3 L334.0 137.9 L334.9 135.8 L335.7 134.7 L338.1 133.3 L339.5 130.4 L342.0 129.0 L345.4 128.7 L347.1 127.3 L348.6 126.9 L351.5 126.2 L350.4 124.5 L350.4 122.7 L352.7 119.6 L355.7 118.6 L358.9 116.9 L362.8 115.6 L365.3 114.2 L368.7 113.2 L370.4 112.2 L369.3 113.9 L365.7 116.2 L364.1 119.0 L365.6 120.0 L369.3 117.2 L372.4 115.9 L376.1 114.9 L379.0 113.9 L381.9 111.9 L382.2 108.5 L379.1 110.8 L376.1 112.2 L372.6 111.9 L370.9 110.5 L370.9 107.5 L369.4 105.9 L372.3 104.9 L374.2 102.3 L372.1 101.0 L368.9 101.4 L364.4 103.3 L360.2 105.6 L356.2 108.2 L354.1 108.9 L357.7 106.2 L362.1 102.6 L365.2 101.0 L368.5 99.1 L371.5 97.8 L376.7 97.5 L381.6 97.8 L386.2 97.8 L390.6 95.3 L395.2 93.8 L399.0 92.2 L400.3 89.2 L398.2 86.7 L397.7 84.7 L393.7 82.6 L391.4 80.5 L390.6 77.4 L390.5 74.0 L388.7 71.0 L388.2 68.3 L385.9 69.6 L383.1 71.8 L378.5 73.7 L375.7 72.4 L375.8 69.6 L377.7 66.7 L375.7 66.2 L373.4 65.1 L370.8 63.1 L366.0 63.3 L362.2 62.6 L360.3 63.1 L359.0 65.9 L357.4 69.1 L356.8 71.3 L353.3 72.4 L354.5 75.1 L354.5 78.0 L353.0 80.8 L349.3 82.3 L344.2 84.1 L343.5 86.7 L343.2 89.8 L342.3 92.2 L340.0 93.8 L337.0 94.4 L335.8 91.6 L334.9 89.2 L336.5 85.5 L338.0 82.9 L335.4 82.3 L331.8 82.3 L329.0 80.8 L326.6 78.8 L323.9 77.4 L320.7 76.8 L316.7 77.4 L317.6 75.1 L315.8 72.6 L316.3 70.4 L318.8 67.8 L323.6 64.9 L327.8 62.6 L332.3 61.3 L334.9 59.6 L338.9 58.8 L342.9 58.1 L347.0 55.9 L347.5 54.1 L351.2 52.9 L353.6 53.4 L355.8 53.4 L360.1 52.2 L363.2 50.4 L364.6 48.3 L364.6 46.4 L361.2 45.5 L358.5 46.2 L357.0 47.8 L352.5 50.0 L349.2 50.0 L350.3 48.3 L349.2 47.0 L345.4 48.5 L346.7 46.4 L345.7 45.3 L347.1 43.3 L347.0 41.8 L344.2 41.6 L340.3 43.3 L336.7 45.3 L338.2 46.4 L337.4 48.0 L339.0 48.5 L335.5 49.8 L330.8 51.1 L328.8 50.0 L327.1 49.6 L323.7 49.8 L319.1 50.0 L315.3 49.6 L312.4 48.5 L306.7 49.6 L303.8 51.1 L301.9 50.0 L297.3 50.2 L293.3 50.0 L292.1 48.5 L290.1 47.6 L287.0 46.8 L284.4 45.7 L279.5 46.2 L276.0 46.4 L275.5 45.3 L272.3 44.7 L268.2 45.3 L265.4 45.1 L260.9 45.9 L256.7 46.6 L251.8 47.6 L248.7 47.6 L246.5 47.0 L244.4 46.4 L242.0 45.9 L239.2 45.1 L234.7 45.3 L231.2 44.9 L228.2 44.3 L224.1 44.3 L221.5 43.5 L218.2 43.1 L215.7 42.7 L210.7 43.7 L205.3 44.3 L200.7 44.7 L194.9 46.4 L189.2 47.6 L183.3 48.7 L183.3 49.6 L184.9 50.4 L184.6 51.8 L185.3 52.9 L180.4 53.6 L179.4 52.9 L174.9 53.6 L170.0 54.5Z M385.7 106.2 L388.7 103.3 L390.2 101.0 L393.9 96.9 L396.7 94.4 L399.4 93.8 L396.9 97.5 L397.7 99.1 L399.9 100.1 L402.3 100.7 L402.8 103.3 L402.7 106.6 L400.6 109.2 L398.8 108.5 L396.2 108.5 L393.8 107.9 L390.4 106.2 L387.8 106.2Z M371.8 109.5 L374.2 109.9 L377.5 110.2 L375.8 111.5 L373.3 111.2Z M375.0 98.8 L378.5 99.4 L381.0 101.0 L378.4 101.4 L375.9 99.8Z M215.0 96.3 L218.9 97.2 L221.5 98.8 L222.6 101.7 L222.3 103.6 L219.7 103.3 L217.5 101.7 L216.2 99.1 L214.9 97.5Z M211.8 85.8 L214.7 86.1 L212.9 88.2 L211.4 91.3 L210.7 89.2 L210.5 87.3Z M170.0 75.7 L174.5 74.8 L175.5 75.7 L171.7 77.4 L168.2 77.7Z M292.3 201.0 L294.3 199.0 L297.6 197.1 L300.7 195.9 L304.4 196.3 L307.1 197.1 L309.7 199.0 L312.8 201.4 L316.3 203.5 L318.9 205.5 L322.3 207.9 L321.3 209.1 L317.5 209.1 L312.6 209.1 L312.1 206.3 L310.3 204.7 L307.7 202.3 L305.1 200.6 L301.5 199.4 L298.8 198.6 L295.6 200.2Z M320.8 215.2 L323.4 216.0 L326.2 216.4 L328.4 217.6 L330.7 216.0 L333.7 215.6 L336.6 215.6 L338.5 214.3 L337.0 212.3 L334.9 210.3 L332.1 209.1 L329.4 209.5 L326.3 209.1 L324.4 209.9 L325.9 211.9 L326.8 214.3 L323.6 214.3Z M309.4 215.6 L311.8 214.8 L314.6 215.6 L315.0 217.2 L312.3 217.6 L309.8 216.8Z M341.9 215.2 L344.9 214.8 L346.5 215.6 L345.2 216.8 L342.0 216.8Z M313.8 188.3 L315.6 188.3 L314.7 191.5 L313.3 191.1Z M316.3 181.3 L318.0 182.8 L317.4 184.4 L315.8 182.4Z M355.2 246.8 L357.6 246.4 L357.4 249.3 L354.8 249.3Z M402.0 31.2 L404.5 32.1 L407.1 32.9 L410.9 34.5 L415.8 34.5 L420.6 34.5 L424.3 35.6 L425.2 37.8 L425.9 40.5 L425.8 43.3 L427.4 43.9 L424.6 44.9 L428.6 46.8 L431.4 45.7 L431.4 47.4 L425.5 48.5 L422.7 51.3 L422.2 54.1 L423.1 56.4 L424.1 58.8 L425.0 61.8 L425.8 65.1 L428.5 67.0 L433.5 69.1 L436.9 69.4 L440.5 65.9 L444.5 61.3 L449.3 57.6 L452.4 55.2 L458.2 54.5 L465.6 52.2 L472.0 49.6 L479.8 48.7 L484.8 46.4 L491.5 44.9 L485.6 43.9 L493.0 43.3 L488.2 42.2 L494.0 41.4 L487.9 40.3 L494.2 39.5 L490.5 38.6 L497.7 38.1 L495.1 36.9 L501.2 36.4 L497.7 35.1 L500.8 34.5 L496.4 33.5 L503.3 32.9 L498.0 32.1 L504.8 31.5 L499.6 30.6 L506.3 29.9 L502.1 29.2 L508.6 28.9 L504.3 28.3 L508.7 27.9 L513.0 27.5 L517.3 27.1 L512.9 27.2 L508.4 27.2 L504.2 26.9 L500.0 26.5 L496.5 26.6 L492.9 26.7 L497.0 26.0 L493.6 25.9 L490.2 25.9 L486.8 25.8 L492.3 25.4 L488.9 25.4 L485.6 25.3 L482.2 25.3 L476.6 25.7 L471.6 25.5 L465.7 26.1 L460.6 26.0 L454.5 26.5 L449.5 26.4 L443.4 26.9 L440.5 26.5 L434.2 27.1 L431.0 26.9 L428.1 27.6 L424.6 27.6 L421.6 28.2 L416.0 28.3 L418.6 28.9 L419.5 29.5 L415.3 29.8 L411.1 30.2 L404.7 30.7Z M485.0 55.0 L488.3 53.1 L491.3 54.1 L493.8 54.8 L498.0 53.6 L503.2 52.9 L506.3 54.1 L508.4 55.9 L506.2 57.9 L501.5 59.3 L496.3 60.3 L492.4 59.8 L488.0 59.1 L489.4 57.9 L485.7 56.7 L489.2 55.7Z M378.8 38.3 L379.6 38.6 L382.7 38.3 L384.1 38.8 L387.0 39.4 L386.3 40.5 L388.7 40.9 L389.9 41.2 L391.1 41.8 L391.7 43.1 L394.7 43.3 L394.1 44.5 L396.6 44.7 L396.9 46.8 L399.6 48.6 L399.9 49.8 L401.7 50.3 L403.9 51.8 L404.0 53.4 L402.3 54.5 L397.9 55.9 L395.2 55.9 L392.1 56.4 L390.9 55.2 L390.8 53.4 L388.1 56.4 L390.7 57.6 L391.6 58.8 L391.4 61.8 L389.0 62.2 L386.6 63.3 L383.2 62.5 L383.0 61.8 L381.0 61.1 L377.5 61.6 L375.2 60.3 L375.6 59.3 L375.2 58.1 L373.1 58.1 L370.0 58.0 L369.0 57.6 L368.0 58.1 L364.3 57.9 L366.0 55.7 L367.2 55.8 L369.8 56.0 L372.8 55.5 L373.3 54.8 L377.2 54.1 L380.6 51.1 L378.7 51.0 L378.6 49.6 L377.8 49.1 L374.9 48.9 L374.5 47.7 L372.0 47.4 L371.5 45.7 L370.1 45.2 L366.5 45.5 L363.5 45.1 L361.5 45.3 L360.7 45.2 L358.0 45.0 L355.9 44.7 L353.5 43.9 L353.3 43.3 L354.5 41.4 L356.9 40.5 L360.5 39.4 L362.5 38.5 L364.8 38.4 L368.0 38.1 L368.6 39.2 L370.4 38.7 L374.8 38.3 L375.9 38.0Z M294.9 44.3 L294.8 45.2 L296.0 45.2 L298.5 46.2 L294.8 46.0 L293.1 47.0 L293.2 47.1 L297.9 47.4 L297.7 48.3 L300.6 48.1 L301.7 48.5 L304.7 47.8 L307.9 47.9 L310.3 48.3 L311.8 48.0 L314.7 47.6 L314.9 48.3 L318.5 47.8 L322.4 46.7 L324.5 46.4 L324.3 44.9 L326.9 44.8 L328.7 43.9 L325.9 43.9 L326.5 43.2 L322.3 43.3 L324.8 40.8 L325.9 39.4 L322.4 39.2 L319.4 39.6 L318.1 39.7 L314.1 39.9 L311.5 40.2 L311.3 39.3 L308.6 39.0 L307.9 39.0 L303.5 39.8 L301.0 39.9 L297.7 41.2 L294.1 42.2 L296.0 42.4 L299.4 41.9 L299.4 42.7Z M282.8 41.6 L282.6 42.6 L283.6 42.9 L287.8 42.7 L289.8 42.0 L290.4 42.5 L292.2 41.3 L297.0 40.5 L303.5 38.8 L305.8 37.8 L305.4 37.3 L302.6 36.8 L301.5 36.9 L299.0 36.6 L297.2 37.2 L293.6 37.4 L288.0 38.7 L286.5 39.5Z M365.5 33.8 L366.6 33.7 L371.4 33.6 L371.1 34.0 L375.1 33.7 L373.9 33.9 L377.5 33.6 L378.8 34.0 L379.3 33.8 L385.6 33.2 L386.4 33.4 L390.4 32.7 L392.7 31.8 L396.7 30.7 L398.7 30.4 L399.9 30.1 L403.2 29.4 L408.1 28.8 L408.6 28.5 L413.7 28.3 L413.8 28.6 L418.0 28.3 L417.3 28.5 L421.4 27.5 L423.2 27.3 L427.0 26.5 L429.8 26.5 L430.4 26.3 L430.3 26.3 L427.2 26.1 L425.6 26.1 L423.0 25.8 L422.0 25.4 L419.5 25.7 L418.0 25.8 L413.4 25.7 L413.6 25.8 L411.5 25.5 L409.4 25.7 L409.1 25.7 L405.2 26.1 L404.1 26.1 L400.5 25.9 L401.4 25.7 L396.6 26.0 L395.3 25.9 L389.6 26.5 L390.6 26.0 L385.9 26.7 L384.8 26.4 L380.6 26.9 L379.0 26.4 L377.0 27.0 L380.6 27.1 L381.5 27.5 L380.0 28.3 L379.2 29.5 L377.9 31.1 L376.1 30.9 L374.3 31.7 L370.3 32.2Z M356.1 33.2 L359.7 33.5 L356.7 34.6 L360.1 34.8 L360.3 35.5 L362.0 34.9 L365.2 35.3 L369.6 35.2 L369.3 35.1 L373.0 35.6 L375.2 35.1 L375.4 35.9 L376.7 36.0 L379.3 35.7 L382.1 35.7 L379.7 36.7 L378.9 36.8 L375.1 37.2 L373.0 36.6 L370.6 36.9 L369.7 36.2 L367.0 36.4 L363.6 37.3 L361.0 36.7 L360.4 36.4 L357.1 36.1 L358.3 35.1 L355.9 34.5 L352.9 34.5Z M365.5 28.3 L366.9 28.5 L370.7 28.1 L370.7 28.8 L372.2 28.6 L372.5 29.3 L377.0 29.0 L376.4 29.5 L372.9 30.8 L369.6 31.3 L368.1 31.0 L366.9 30.6 L365.6 30.7 L366.7 29.7 L363.9 29.4Z M346.1 55.7 L350.7 55.5 L353.2 56.4 L356.3 58.1 L357.2 59.8 L352.3 60.3 L347.4 60.8 L343.9 59.6 L343.7 57.6Z M313.3 34.0 L316.5 34.0 L318.2 33.7 L319.1 34.0 L318.5 34.3 L321.6 34.4 L324.9 33.9 L327.1 33.8 L326.3 34.4 L329.7 33.8 L332.5 34.0 L333.6 34.5 L330.6 36.1 L329.5 36.7 L326.6 35.8 L324.1 36.4 L322.3 36.8 L319.1 37.2 L316.3 36.9 L316.2 36.3 L313.9 36.1 L311.8 35.3 L309.5 35.9 L309.0 35.6Z M348.6 37.8 L351.2 37.5 L353.8 37.6 L356.0 37.4 L358.0 38.1 L354.6 39.9 L352.3 40.7 L348.5 41.4 L347.1 40.8 L344.7 40.5 L345.3 39.0Z M332.9 39.5 L335.1 39.3 L340.1 38.1 L342.5 37.8 L343.5 38.5 L342.1 40.5 L337.8 41.9 L336.0 42.4 L334.6 41.7 L332.7 41.8 L332.6 41.1 L329.9 40.8Z M338.9 33.7 L341.9 33.5 L344.3 33.5 L345.9 33.5 L347.8 34.3 L349.1 34.5 L345.3 36.1 L343.5 36.5 L340.6 36.2 L339.4 36.1 L338.5 36.0 L336.0 35.3Z M328.0 47.0 L333.7 45.7 L336.5 47.0 L332.9 48.3 L328.6 48.3Z M84.0 207.9 L86.3 209.1 L86.3 211.1 L83.7 213.1 L83.3 210.3Z M961.4 336.1 L962.7 341.5 L963.1 349.8 L965.1 351.4 L966.7 353.9 L965.8 360.0 L966.7 364.1 L966.3 369.4 L969.2 371.8 L971.5 375.0 L972.3 379.4 L972.6 383.5 L975.0 385.0 L974.2 388.6 L976.0 391.0 L977.5 395.0 L976.9 398.9 L975.3 404.0 L974.6 407.9 L971.3 413.6 L967.9 419.4 L965.2 422.8 L961.8 425.0 L958.8 428.4 L955.6 432.5 L952.0 436.2 L949.1 440.6 L946.7 442.4 L942.7 443.1 L939.0 445.0 L935.3 447.1 L934.0 445.7 L933.1 443.9 L929.1 446.0 L926.2 445.0 L923.7 444.6 L921.6 443.5 L921.4 440.2 L922.8 436.2 L921.4 434.7 L920.1 434.0 L921.7 429.9 L922.6 426.2 L920.2 429.5 L918.6 432.5 L916.5 433.3 L914.9 431.4 L913.5 430.3 L913.5 425.8 L913.0 422.4 L909.8 421.3 L906.9 419.4 L903.4 419.8 L898.6 421.3 L894.0 422.4 L891.2 422.4 L886.9 424.7 L882.8 428.1 L879.0 428.4 L875.0 428.1 L871.4 428.8 L866.6 431.8 L863.4 432.9 L860.1 432.1 L857.9 429.9 L858.7 426.9 L861.1 425.0 L862.8 421.3 L863.5 417.5 L863.4 413.6 L864.0 409.8 L863.8 405.1 L863.2 400.1 L865.2 395.0 L865.2 391.4 L867.1 387.4 L868.3 383.5 L870.8 381.5 L874.1 379.4 L877.6 377.0 L881.4 376.6 L885.5 374.2 L889.4 373.4 L892.8 371.4 L896.5 366.1 L897.4 362.9 L900.0 360.0 L902.0 362.0 L903.1 358.8 L905.8 355.1 L908.7 351.8 L911.4 349.8 L913.5 349.3 L915.6 351.4 L917.3 353.5 L920.3 353.5 L921.8 349.8 L923.8 346.0 L925.7 343.2 L928.8 342.3 L931.3 339.4 L934.0 340.7 L937.8 341.5 L941.2 342.3 L943.6 342.3 L941.4 346.9 L939.3 351.0 L937.9 353.9 L940.2 357.1 L943.7 358.8 L946.6 362.0 L948.4 364.5 L950.8 364.1 L952.9 360.0 L955.5 353.9 L956.9 347.7 L958.2 343.6 L959.4 339.4Z M927.4 453.2 L929.1 453.9 L932.4 454.2 L936.1 453.5 L934.7 457.0 L931.6 460.5 L928.6 462.2 L925.2 463.3 L924.5 461.2 L925.9 457.7 L926.1 455.3Z M1017.5 430.3 L1018.4 432.5 L1018.9 436.2 L1019.7 438.4 L1019.7 440.6 L1020.2 442.8 L1022.9 442.8 L1025.9 442.4 L1021.8 446.4 L1018.4 448.2 L1015.8 450.7 L1011.3 454.2 L1007.3 456.3 L1006.8 455.3 L1009.6 452.5 L1010.3 450.0 L1008.9 448.5 L1012.3 446.4 L1015.1 443.5 L1016.9 439.9 L1017.4 437.3 L1017.2 433.6Z M1003.2 452.5 L1004.0 454.2 L1004.6 456.0 L1002.0 458.8 L998.0 461.2 L995.3 463.3 L992.1 464.6 L988.6 466.7 L985.3 469.7 L982.5 471.4 L978.2 473.4 L975.6 473.4 L974.2 472.1 L972.7 471.0 L975.9 468.4 L980.7 465.7 L984.7 463.9 L990.0 461.5 L994.5 458.8 L998.2 456.0 L1001.1 453.5Z M929.9 294.8 L933.8 293.1 L937.4 294.4 L939.5 297.7 L939.6 303.2 L942.5 305.3 L946.3 301.1 L949.3 298.2 L953.8 299.8 L958.2 301.9 L962.0 303.2 L966.1 305.7 L969.9 307.8 L973.5 312.0 L975.4 314.9 L978.3 316.6 L978.9 319.5 L976.5 319.9 L976.8 322.8 L978.9 325.7 L981.5 329.1 L984.2 332.0 L985.9 334.9 L983.1 335.3 L979.4 334.0 L976.7 332.4 L974.9 329.9 L973.0 325.7 L969.6 323.7 L966.5 324.9 L964.3 329.1 L961.2 329.9 L958.3 329.5 L955.1 325.7 L952.2 324.9 L949.1 326.2 L948.9 322.8 L952.0 320.7 L951.4 317.4 L949.6 313.6 L945.9 310.7 L942.0 309.9 L938.5 307.8 L935.5 308.2 L933.3 304.0 L935.8 301.9 L938.2 300.7 L934.3 300.7 L931.4 298.2Z M980.8 315.3 L984.4 314.5 L987.4 314.5 L990.5 312.0 L993.1 309.5 L992.6 312.4 L989.7 315.7 L985.6 317.8 L982.7 317.0Z M988.6 302.3 L991.8 304.0 L994.6 308.2 L995.1 311.1 L993.4 308.2 L990.9 305.3Z M999.9 314.1 L1002.1 316.6 L1003.3 319.9 L1001.3 319.1 L1000.0 316.6Z M1013.2 330.3 L1015.5 331.1 L1016.1 332.8 L1013.8 332.4Z M1017.0 326.2 L1018.5 330.3 L1017.4 332.0 L1016.4 328.2Z M1010.5 322.8 L1013.2 324.9 L1013.9 327.0 L1011.2 324.9Z M1029.5 353.9 L1030.8 355.9 L1030.1 358.0 L1029.3 356.3Z M1030.3 358.0 L1031.7 359.6 L1030.6 360.4Z M1016.5 374.6 L1019.2 377.4 L1021.9 380.6 L1022.5 383.5 L1020.0 382.3 L1017.5 379.0Z M1058.4 364.1 L1061.3 363.3 L1061.7 366.1 L1059.1 366.9 L1057.9 366.1Z M1063.4 360.8 L1067.8 358.8 L1065.7 361.2Z M864.2 285.2 L866.2 283.1 L870.1 284.7 L871.3 281.0 L874.5 278.9 L877.4 275.5 L880.2 272.2 L883.1 269.3 L885.7 264.3 L887.7 262.6 L889.4 266.3 L892.9 268.8 L893.6 271.4 L890.7 273.4 L890.3 277.6 L890.4 283.1 L893.5 287.3 L890.5 288.5 L889.6 293.5 L887.2 297.7 L885.9 303.2 L884.8 307.4 L881.2 308.2 L878.3 305.7 L874.4 305.7 L871.5 304.0 L868.5 304.0 L867.1 298.6 L865.1 294.0 L864.2 289.8Z M822.8 268.4 L826.4 269.7 L829.4 269.7 L831.9 273.9 L834.7 276.8 L837.2 280.1 L839.6 282.2 L842.4 284.3 L844.8 287.3 L847.2 289.4 L848.4 293.5 L850.1 296.5 L851.6 300.7 L854.5 303.2 L855.0 306.1 L854.2 311.5 L854.0 315.7 L851.0 315.7 L848.8 312.4 L846.0 309.0 L843.7 306.1 L841.7 301.9 L839.7 297.7 L837.9 293.5 L835.8 290.6 L833.7 286.0 L831.3 281.8 L828.8 278.0 L826.0 275.1 L823.5 271.4Z M852.0 319.9 L854.6 316.6 L857.6 316.1 L861.0 317.8 L864.2 319.9 L867.7 320.3 L869.9 318.6 L873.7 320.3 L876.5 323.2 L879.4 324.1 L879.1 327.4 L875.4 326.2 L871.2 326.2 L866.8 324.9 L862.5 323.7 L858.6 323.2 L855.4 322.0Z M894.1 287.3 L897.0 286.0 L900.0 286.0 L904.5 287.3 L909.0 287.7 L912.0 284.7 L912.6 286.4 L909.9 289.8 L906.0 289.8 L901.6 289.8 L898.0 290.2 L897.1 294.8 L900.1 295.2 L903.0 295.2 L906.9 294.8 L904.5 298.2 L901.5 299.4 L903.5 304.0 L905.1 309.0 L903.4 312.0 L901.7 311.1 L899.8 306.1 L899.3 302.8 L897.8 304.0 L897.8 310.3 L897.3 314.5 L894.9 314.5 L895.2 308.2 L894.8 305.3 L893.3 303.2 L894.6 299.0 L896.2 293.5 L896.5 290.2Z M879.3 325.7 L882.2 325.7 L882.1 327.8 L880.0 327.4Z M883.7 326.2 L885.7 326.6 L885.0 328.6 L883.5 328.2Z M886.0 327.0 L889.6 326.2 L892.5 327.0 L891.8 328.2 L887.9 329.1 L885.8 329.1Z M895.2 327.0 L898.5 326.6 L902.4 326.6 L904.5 326.2 L902.8 328.2 L898.3 328.6 L895.4 328.2Z M892.1 331.1 L895.2 330.7 L897.3 333.2 L894.8 334.0 L892.6 332.8Z M905.2 334.5 L908.5 330.7 L911.8 328.2 L915.5 326.6 L916.9 327.0 L914.6 329.1 L910.8 331.6 L907.6 334.0Z M919.4 283.9 L920.9 282.2 L921.5 286.0 L923.3 286.0 L921.9 289.4 L922.5 293.5 L920.7 291.4 L919.8 288.1Z M920.8 304.0 L925.3 303.2 L929.1 305.3 L928.1 307.4 L923.7 305.7 L921.0 305.7Z M914.8 304.9 L917.8 304.4 L918.3 306.5 L915.3 307.4Z M891.1 214.8 L893.9 214.3 L896.2 215.6 L897.5 220.9 L896.5 224.9 L896.9 229.0 L898.6 232.3 L901.8 234.0 L905.2 237.3 L905.5 239.3 L902.9 237.3 L900.5 235.2 L898.0 234.0 L895.9 234.0 L894.3 231.1 L892.8 229.0 L891.1 224.1 L891.7 220.9 L891.4 217.6Z M902.0 262.2 L903.1 258.0 L905.9 255.5 L908.9 255.5 L911.5 251.8 L913.8 253.8 L915.1 258.8 L915.4 263.0 L914.1 265.5 L912.8 267.6 L911.2 266.3 L909.1 265.5 L907.3 261.3 L904.5 260.5Z M887.2 256.3 L889.9 253.0 L892.7 248.4 L893.2 244.7 L891.7 247.6 L889.2 252.2Z M906.4 239.3 L909.4 239.7 L911.3 244.7 L909.3 245.5 L908.3 242.2Z M907.3 243.9 L909.1 244.3 L910.2 248.4 L909.1 249.3Z M902.1 247.6 L904.3 245.9 L904.6 251.8 L902.8 251.8Z M900.0 242.2 L902.5 243.1 L903.3 245.5 L901.2 247.6 L900.1 245.5Z M894.7 235.6 L897.0 235.6 L897.8 239.3 L896.5 240.2Z M905.0 249.7 L906.1 246.4 L906.2 244.7 L905.4 247.6Z M714.1 481.2 L717.1 480.3 L718.2 481.9 L716.3 483.5 L713.9 483.1Z M308.1 259.7 L308.7 255.1 L310.0 257.2 L312.0 253.8 L313.9 251.3 L314.5 247.6 L316.4 245.5 L318.6 244.3 L321.5 244.3 L324.7 241.8 L326.6 239.7 L327.7 241.4 L326.6 243.5 L325.3 245.1 L326.1 247.6 L324.7 250.5 L326.0 253.4 L327.6 251.8 L327.2 247.6 L328.6 244.7 L330.5 243.5 L331.3 241.0 L332.0 243.5 L334.6 243.9 L336.2 246.8 L338.8 247.6 L342.1 247.2 L345.0 249.3 L347.1 248.4 L350.1 247.2 L353.1 246.8 L354.9 246.8 L352.4 248.4 L353.8 250.5 L357.3 251.8 L358.0 255.5 L360.6 256.7 L362.9 258.4 L364.3 262.2 L366.3 264.7 L368.6 266.8 L371.6 266.8 L374.6 266.3 L377.5 267.6 L380.5 269.3 L383.4 272.2 L384.8 273.9 L386.3 278.0 L388.3 283.1 L389.5 286.4 L387.4 290.6 L388.3 292.3 L391.3 292.3 L393.6 292.7 L393.7 296.9 L395.7 294.4 L398.7 295.2 L401.7 296.9 L404.7 298.6 L405.9 301.9 L408.6 301.5 L411.6 302.8 L414.6 303.6 L418.2 303.2 L421.2 305.3 L423.6 306.9 L426.7 310.7 L429.7 312.8 L433.3 313.6 L434.2 318.6 L434.9 322.8 L434.7 327.0 L433.6 330.7 L431.7 334.5 L428.8 338.2 L426.9 342.7 L424.7 345.6 L423.4 348.9 L423.6 353.9 L424.2 360.0 L423.7 365.3 L422.5 369.4 L421.9 374.2 L420.0 379.4 L419.1 383.1 L417.1 385.8 L413.6 386.2 L409.9 387.0 L407.3 389.4 L404.8 390.6 L401.9 393.4 L399.7 396.5 L399.6 400.9 L400.2 405.1 L399.7 408.3 L397.8 411.3 L396.7 415.2 L395.2 418.2 L392.9 421.7 L391.8 425.0 L390.0 427.7 L389.3 430.3 L386.6 432.1 L383.0 432.1 L379.6 430.3 L376.6 428.8 L376.7 431.0 L379.7 433.3 L381.2 436.6 L382.6 438.0 L381.6 442.8 L379.5 445.3 L375.7 446.8 L371.8 447.1 L369.5 446.8 L370.8 450.7 L370.3 454.2 L366.7 453.9 L363.8 453.9 L365.1 457.7 L368.4 458.1 L369.7 460.5 L367.6 460.8 L366.6 462.9 L366.6 466.3 L366.5 468.4 L363.8 469.0 L362.8 471.4 L364.2 474.0 L368.0 475.4 L369.3 477.7 L367.2 480.3 L366.5 483.8 L364.6 485.4 L364.7 487.6 L366.5 490.1 L368.4 491.6 L365.3 491.3 L362.8 493.1 L363.7 496.2 L360.5 495.6 L356.1 493.1 L352.5 490.7 L349.9 487.6 L347.7 484.4 L345.2 480.3 L344.9 477.0 L345.6 474.0 L342.4 473.4 L343.8 470.7 L343.6 467.3 L346.0 466.0 L345.4 461.2 L343.3 457.7 L341.4 456.0 L340.0 452.5 L340.1 449.3 L338.5 444.6 L337.1 440.6 L338.2 439.5 L338.5 435.5 L339.0 430.7 L338.8 425.0 L337.8 419.4 L336.9 413.6 L335.7 409.0 L336.2 404.4 L336.0 398.1 L335.6 392.2 L335.0 388.2 L335.0 382.3 L334.4 376.2 L333.3 371.4 L332.5 367.3 L329.3 364.9 L325.6 361.2 L320.9 358.0 L317.1 355.1 L314.5 352.6 L312.9 348.9 L311.3 343.6 L309.9 341.5 L307.7 336.5 L306.3 333.2 L303.8 327.0 L301.8 322.8 L300.2 319.9 L296.5 317.0 L296.3 312.4 L295.7 311.1 L297.1 308.2 L298.8 305.7 L300.2 303.2 L299.6 300.7 L296.9 301.1 L296.9 296.5 L298.3 293.1 L299.5 289.8 L299.2 288.1 L301.0 287.3 L302.8 285.6 L304.4 280.6 L305.9 280.6 L308.4 275.1 L307.2 273.9 L307.9 270.5 L307.4 268.0 L308.2 263.8 L307.1 261.7Z M368.0 492.5 L365.8 492.5 L364.2 493.4 L365.2 495.6 L364.0 496.8 L360.6 497.4 L363.9 499.1 L368.1 500.3 L372.2 501.2 L375.9 502.4 L376.6 500.3 L379.2 498.8 L375.6 498.0 L372.6 496.8 L369.9 494.7Z M385.5 490.1 L387.9 488.5 L391.7 488.5 L393.8 489.4 L392.2 491.3 L389.1 491.6 L386.5 491.3Z M340.6 457.7 L342.3 457.4 L343.9 462.2 L341.8 462.2Z M300.0 566.0 L296.5 565.2 L293.1 564.5 L289.6 563.7 L286.2 562.9 L282.7 562.1 L279.3 561.4 L275.8 560.6 L272.4 559.8 L268.9 559.0 L265.5 558.3 L262.0 557.5 L257.6 556.2 L253.6 555.2 L249.3 554.6 L245.0 553.8 L240.2 552.8 L236.0 551.8 L240.0 550.0 L244.1 549.0 L248.4 547.7 L253.0 547.2 L256.6 547.1 L260.1 546.0 L264.0 546.3 L267.6 545.2 L271.2 544.9 L275.5 544.0 L279.5 543.9 L283.3 543.7 L286.9 543.4 L290.8 544.3 L294.5 544.2 L298.5 544.2 L303.1 544.1 L307.6 543.7 L312.1 544.2 L316.0 544.3 L320.6 544.9 L324.5 545.4 L328.8 545.7 L329.5 542.0 L331.0 541.0 L334.6 540.9 L338.5 541.4 L342.0 541.3 L342.8 542.5 L342.4 544.9 L346.0 544.4 L350.0 544.2 L353.9 543.0 L357.6 542.7 L362.0 542.5 L365.9 543.3 L369.8 543.2 L374.2 543.4 L378.5 543.6 L383.5 543.5 L387.9 543.4 L385.6 540.4 L387.9 536.6 L392.4 531.3 L394.9 528.4 L397.0 526.0 L403.0 523.3 L409.8 521.8 L410.6 523.3 L407.3 525.2 L403.8 526.8 L400.0 529.8 L399.2 534.3 L403.8 535.8 L408.0 537.7 L412.1 539.6 L417.4 542.7 L416.7 545.7 L410.6 547.5 L407.3 548.4 L403.5 548.5 L400.0 548.7 L395.6 549.3 L391.7 549.5 L393.2 551.5 L398.5 553.0 L403.1 553.9 L407.8 553.4 L412.1 554.0 L415.8 554.2 L419.4 554.0 L423.3 553.6 L427.3 554.0 L431.1 554.8 L435.1 554.7 L439.4 555.5 L443.0 552.5 L447.0 550.8 L450.9 551.2 L455.0 550.8 L458.5 552.5 L460.6 554.8 L464.4 553.7 L468.7 553.2 L472.7 551.8 L476.5 551.4 L480.0 550.2 L483.9 549.5 L488.0 549.4 L492.4 548.0 L495.9 547.4 L500.0 547.1 L504.2 546.5 L507.3 543.4 L511.9 540.9 L516.4 538.9 L520.7 538.8 L525.5 538.9 L529.5 539.2 L533.8 539.6 L537.6 539.6 L541.2 539.2 L545.0 538.0 L548.8 538.3 L552.4 537.8 L555.8 536.9 L561.8 538.1 L566.3 537.2 L570.9 536.6 L574.5 537.1 L578.2 536.9 L582.1 537.4 L586.1 538.1 L589.8 537.2 L593.4 537.0 L597.2 536.8 L601.2 536.6 L605.5 535.5 L610.3 533.6 L614.9 534.6 L619.4 536.3 L623.3 535.2 L627.4 534.1 L631.5 533.6 L635.5 533.4 L639.1 532.0 L642.7 530.8 L646.7 530.5 L650.6 529.3 L655.0 528.3 L658.8 527.8 L664.8 530.5 L668.3 532.1 L672.4 532.8 L677.0 531.3 L681.6 531.7 L686.1 532.8 L686.1 535.8 L682.3 537.6 L678.5 540.4 L683.0 541.2 L687.6 539.8 L692.1 537.4 L696.9 536.8 L701.2 535.8 L705.6 534.0 L710.3 532.4 L714.7 531.7 L719.4 530.5 L723.0 530.3 L726.4 529.2 L730.0 529.0 L733.0 530.5 L737.1 531.1 L741.1 530.9 L745.0 530.8 L748.6 530.6 L752.7 530.6 L756.6 528.9 L760.5 528.0 L764.8 527.0 L769.4 530.2 L773.8 530.0 L778.5 529.3 L783.3 528.5 L787.6 527.8 L791.7 529.8 L795.2 530.8 L799.0 530.2 L802.1 529.5 L805.8 529.3 L809.4 528.9 L813.4 529.6 L817.3 529.1 L820.9 529.0 L825.5 529.1 L829.7 528.7 L834.5 528.3 L837.6 526.3 L836.8 530.2 L841.4 530.4 L845.7 530.0 L849.7 530.2 L854.2 529.8 L856.5 533.3 L860.2 533.8 L864.4 533.6 L867.9 533.9 L871.6 536.3 L875.5 537.8 L880.2 537.9 L884.3 538.4 L889.1 539.3 L889.8 540.8 L885.8 542.0 L881.1 542.9 L877.0 543.4 L873.6 544.3 L869.6 545.0 L865.9 545.1 L862.7 546.6 L858.8 547.2 L854.8 548.9 L850.7 550.1 L846.7 551.0 L842.8 550.9 L838.4 551.3 L834.5 551.8 L830.8 552.6 L827.3 553.2 L823.9 554.0 L823.9 556.0 L827.7 557.4 L831.5 558.8 L831.2 562.4 L831.0 566.0 L827.5 566.0 L824.0 566.0 L820.5 566.0 L816.9 566.0 L813.4 566.0 L809.9 566.0 L806.4 566.0 L802.9 566.0 L799.4 566.0 L795.8 566.0 L792.3 566.0 L788.8 566.0 L785.3 566.0 L781.8 566.0 L778.3 566.0 L774.7 566.0 L771.2 566.0 L767.7 566.0 L764.2 566.0 L760.7 566.0 L757.2 566.0 L753.6 566.0 L750.1 566.0 L746.6 566.0 L743.1 566.0 L739.6 566.0 L736.1 566.0 L732.5 566.0 L729.0 566.0 L725.5 566.0 L722.0 566.0 L718.5 566.0 L715.0 566.0 L711.4 566.0 L707.9 566.0 L704.4 566.0 L700.9 566.0 L697.4 566.0 L693.9 566.0 L690.3 566.0 L686.8 566.0 L683.3 566.0 L679.8 566.0 L676.3 566.0 L672.8 566.0 L669.2 566.0 L665.7 566.0 L662.2 566.0 L658.7 566.0 L655.2 566.0 L651.7 566.0 L648.1 566.0 L644.6 566.0 L641.1 566.0 L637.6 566.0 L634.1 566.0 L630.6 566.0 L627.0 566.0 L623.5 566.0 L620.0 566.0 L616.5 566.0 L613.0 566.0 L609.5 566.0 L605.9 566.0 L602.4 566.0 L598.9 566.0 L595.4 566.0 L591.9 566.0 L588.4 566.0 L584.8 566.0 L581.3 566.0 L577.8 566.0 L574.3 566.0 L570.8 566.0 L567.3 566.0 L563.7 566.0 L560.2 566.0 L556.7 566.0 L553.2 566.0 L549.7 566.0 L546.2 566.0 L542.6 566.0 L539.1 566.0 L535.6 566.0 L532.1 566.0 L528.6 566.0 L525.1 566.0 L521.5 566.0 L518.0 566.0 L514.5 566.0 L511.0 566.0 L507.5 566.0 L504.0 566.0 L500.4 566.0 L496.9 566.0 L493.4 566.0 L489.9 566.0 L486.4 566.0 L482.9 566.0 L479.3 566.0 L475.8 566.0 L472.3 566.0 L468.8 566.0 L465.3 566.0 L461.8 566.0 L458.2 566.0 L454.7 566.0 L451.2 566.0 L447.7 566.0 L444.2 566.0 L440.7 566.0 L437.1 566.0 L433.6 566.0 L430.1 566.0 L426.6 566.0 L423.1 566.0 L419.6 566.0 L416.0 566.0 L412.5 566.0 L409.0 566.0 L405.5 566.0 L402.0 566.0 L398.5 566.0 L394.9 566.0 L391.4 566.0 L387.9 566.0 L384.4 566.0 L380.9 566.0 L377.4 566.0 L373.8 566.0 L370.3 566.0 L366.8 566.0 L363.3 566.0 L359.8 566.0 L356.3 566.0 L352.7 566.0 L349.2 566.0 L345.7 566.0 L342.2 566.0 L338.7 566.0 L335.2 566.0 L331.6 566.0 L328.1 566.0 L324.6 566.0 L321.1 566.0 L317.6 566.0 L314.1 566.0 L310.5 566.0 L307.0 566.0 L303.5 566.0Z M234.1 549.9 L252.3 549.6 L253.0 550.8 L234.8 551.5Z M258.3 553.3 L275.0 553.6 L275.0 555.1 L259.1 554.8Z M262.0 557.0 L300.0 557.6 L300.0 559.0 L262.0 558.6Z M385.6 536.6 L390.9 535.8 L396.5 538.0 L397.0 540.2 L392.0 541.5 L385.6 540.8 L384.1 538.9Z" fill="#F2F2F2" stroke="#575757" stroke-width="2.0" stroke-linejoin="round"/>
<path d="M666.2 110.5 L669.4 108.9 L672.4 108.5 L675.6 109.9 L677.4 112.5 L675.1 113.9 L672.9 115.6 L670.9 116.9 L673.3 119.6 L676.6 122.4 L679.6 125.9 L680.2 128.7 L683.1 129.4 L682.3 132.2 L682.3 135.8 L684.9 139.4 L685.8 142.3 L682.5 143.8 L678.5 144.5 L675.3 141.9 L672.9 140.8 L671.2 137.6 L671.8 134.7 L672.7 131.2 L670.8 128.7 L668.6 125.9 L666.1 122.7 L664.3 120.7 L663.1 117.6 L661.3 115.6 L662.8 112.9 L664.8 111.5Z" fill="#DEF3F7" stroke="#575757" stroke-width="2.0" stroke-linejoin="round"/>
<path d="M532.5 150.0 L533.6 152.6 L533.8 156.7 L535.2 160.5 L530.1 162.4 L528.4 165.8 L524.4 169.3 L521.6 170.8 L517.3 171.6 L513.9 174.3 L513.8 178.1 M513.8 178.1 L507.4 178.1 L500.9 178.1 M513.8 178.1 L513.6 184.8 L504.2 184.8 L503.9 194.7 L501.0 196.7 L500.8 203.5 L495.0 203.5 L489.2 203.5 M513.7 179.7 L524.8 188.7 M524.8 188.7 L519.9 188.7 L520.5 197.4 L521.1 206.1 L521.7 214.9 L522.4 223.7 L522.4 227.0 L516.5 227.2 L510.6 227.4 L507.0 227.4 L504.7 226.6 L502.6 230.3 M502.6 230.3 L500.3 227.0 L496.0 222.5 L490.0 224.9 M524.8 188.7 L530.5 193.9 L536.2 199.0 L542.0 204.3 L542.0 205.9 L547.3 209.5 L548.2 212.7 L550.8 212.3 M550.8 212.3 L555.5 210.7 L560.4 205.5 L566.8 200.0 L573.2 194.7 M573.2 194.7 L567.3 190.7 L565.7 183.2 L567.1 180.9 L566.4 175.8 L565.4 168.5 M565.4 168.5 L563.8 161.6 L560.0 157.1 L561.5 151.9 L561.3 144.9 L562.1 143.4 M565.4 168.5 L567.2 165.4 L567.4 162.8 L570.7 160.5 L570.6 157.5 M608.7 163.1 L609.4 172.3 L610.0 181.7 L610.5 191.1 L611.1 200.6 M611.1 200.6 L611.4 208.7 L608.5 208.7 L608.6 210.7 M608.6 210.7 L602.6 206.7 L596.6 202.7 L590.7 198.6 L584.8 194.7 L581.9 196.7 M581.9 196.7 L579.7 198.3 L573.2 194.7 M611.1 200.6 L618.0 200.6 L624.9 200.6 L631.8 200.6 L638.7 200.6 L645.6 200.6 M581.9 196.7 L583.6 204.7 L584.6 208.7 L584.1 221.3 L578.7 231.1 L578.4 234.4 M578.4 234.4 L575.5 236.4 L568.1 236.4 L563.7 237.3 L559.2 237.3 L557.2 234.8 L551.8 234.4 L549.2 242.6 M549.2 242.6 L546.8 239.7 L545.1 239.7 M545.1 239.7 L541.5 236.0 L539.4 230.7 L539.1 229.0 M539.1 229.0 L543.0 227.8 L548.9 227.4 L550.9 222.9 L550.8 212.3 M539.1 229.0 L535.6 229.9 L532.6 232.3 L529.7 234.4 L525.8 236.4 L525.2 240.6 L522.8 242.2 L522.2 248.0 M522.2 248.0 L520.2 247.2 L517.8 248.9 L514.8 248.9 M514.8 248.9 L513.9 245.5 L512.8 241.4 L511.0 239.7 L508.1 240.6 L504.8 240.6 M504.8 240.6 L504.6 236.4 L503.1 233.1 L502.6 230.3 M504.8 240.6 L501.6 239.7 L498.0 238.9 L492.7 238.9 L489.1 239.7 M498.0 238.9 L498.0 242.6 L495.6 243.5 L494.1 245.9 M489.2 234.8 L494.3 234.0 L497.8 235.6 L494.2 236.4 L489.2 236.9 M499.0 253.8 L501.4 250.1 L505.3 249.7 L507.0 253.0 L507.9 255.9 M507.9 255.9 L510.3 256.3 L511.7 260.9 L513.5 259.7 M507.9 255.9 L504.3 262.6 M513.5 259.7 L514.8 255.9 L515.4 252.2 L514.8 248.9 M513.5 259.7 L513.8 264.3 L516.2 267.2 L516.2 273.0 M529.3 270.1 L530.2 266.3 L529.0 262.2 L531.1 257.2 L530.2 251.8 M522.2 248.0 L525.2 250.9 L530.2 251.8 M530.2 251.8 L530.2 245.5 L538.5 245.1 M538.5 245.1 L539.7 249.7 L540.3 256.7 L540.0 262.2 L542.1 265.9 M541.2 245.5 L543.3 253.8 L543.3 265.5 M538.5 245.1 L541.2 245.5 M541.2 245.5 L545.1 239.7 M549.2 242.6 L549.5 249.7 L546.6 258.0 L546.6 264.7 M563.9 271.8 L565.4 267.2 L568.9 262.6 L572.8 263.4 L574.9 258.0 L577.8 251.3 L580.1 244.3 L581.8 240.6 L580.6 238.1 L578.4 234.4 M580.6 238.1 L583.0 243.5 L584.0 249.7 L580.1 250.5 L584.7 260.1 M584.7 260.1 L581.8 266.3 L582.4 272.2 L586.3 279.7 L586.9 282.2 M586.9 282.2 L581.9 282.2 L578.0 282.2 M578.0 282.2 L572.3 282.2 M572.3 282.2 L567.8 281.8 M572.3 282.2 L572.3 287.3 L567.2 287.3 M578.0 282.2 L581.6 285.6 L580.1 291.4 L581.6 297.7 L581.6 301.1 L577.4 301.5 L575.9 305.7 L571.7 307.8 M608.6 210.7 L609.2 226.2 L605.7 227.0 L604.2 237.3 L605.3 245.5 L606.5 245.9 M606.5 245.9 L602.4 248.9 L595.0 253.8 L589.2 259.2 L584.7 260.1 M606.5 245.9 L609.9 255.1 L613.6 258.8 L617.2 264.3 L620.3 269.7 M609.9 255.1 L615.7 248.9 L621.7 251.8 L627.6 248.9 L634.5 241.4 L637.0 246.4 L639.3 251.8 M620.3 269.7 L613.1 270.5 L605.7 273.9 L599.7 272.6 L594.1 276.8 M594.1 276.8 L589.3 276.4 L586.9 282.2 M594.1 276.8 L592.3 282.2 L591.7 291.4 L587.8 299.0 L586.3 306.1 L583.3 310.3 L580.3 311.5 L577.3 310.7 L574.9 315.7 M577.0 311.1 L574.9 315.7 M639.3 251.8 L639.7 255.9 L636.8 258.0 L641.3 263.4 L643.8 268.8 L645.7 272.2 M639.3 251.8 L640.3 247.2 L642.2 241.4 L645.5 235.2 L646.3 231.9 M646.3 231.9 L647.2 220.9 L651.3 216.8 M646.3 231.9 L650.6 230.3 L656.5 231.1 L664.0 239.3 M664.0 239.3 L662.5 245.5 L666.1 245.5 L666.6 243.5 M666.1 245.5 L665.7 249.7 L669.4 253.8 L678.4 258.0 L681.4 258.0 L672.8 270.5 L663.9 273.9 L660.9 275.1 M660.9 275.1 L656.5 277.2 L652.0 276.4 L647.5 273.0 L645.7 272.2 M660.9 275.1 L661.0 291.4 L661.0 295.2 L662.5 298.6 M645.7 272.2 L641.2 273.9 L640.0 273.9 M640.0 273.9 L641.6 278.9 L643.1 284.3 L640.1 290.6 L639.8 295.6 M639.8 295.6 L650.8 304.0 L651.1 306.1 L655.5 311.1 M640.0 273.9 L634.1 276.4 L630.5 276.8 M630.5 276.8 L626.6 272.6 L620.3 269.7 M630.5 276.8 L631.7 282.2 L628.2 288.1 L627.0 293.5 L627.0 297.3 M629.7 295.6 L639.8 295.6 M627.0 297.3 L629.7 295.6 L630.5 301.1 L629.6 301.5 L628.1 302.8 L625.2 302.8 M629.6 301.5 L630.5 305.3 L628.1 309.9 L626.0 309.9 M627.0 297.3 L625.2 302.8 L625.7 306.1 L626.0 309.9 M626.0 309.9 L626.5 316.6 L629.9 325.7 M629.9 325.7 L633.7 329.1 L636.6 331.1 M636.6 331.1 L639.6 331.1 L640.8 339.4 M640.8 339.4 L645.2 339.8 L651.2 338.6 L658.4 335.3 M640.8 339.4 L641.5 343.6 L644.1 351.8 L643.9 358.0 L641.9 362.0 L639.7 358.0 L640.3 351.8 L636.0 349.8 M636.6 331.1 L637.3 337.4 L635.5 347.7 L636.0 349.8 M636.0 349.8 L631.5 351.8 L627.8 353.9 M627.8 353.9 L623.2 360.0 L617.6 366.1 L612.7 365.3 M629.9 325.7 L624.2 327.0 L623.3 330.3 L623.4 337.4 L625.9 342.7 L624.3 347.3 L620.0 342.3 L614.1 338.6 L609.7 337.0 M574.9 315.7 L577.9 316.1 L587.7 316.1 L589.2 322.0 L595.1 324.1 L598.1 320.7 L603.5 322.0 L603.9 332.4 L604.7 337.4 L609.7 337.0 M609.7 337.0 L609.5 345.6 L603.6 345.6 L603.2 358.8 L607.1 364.5 M573.2 363.3 L578.2 362.5 L580.2 363.7 L586.5 363.7 L592.8 363.7 L600.1 366.1 L607.1 364.5 M600.0 367.3 L599.5 382.3 L596.6 382.3 L596.1 393.4 M607.1 364.5 L612.7 365.3 M596.1 393.4 L595.4 407.5 L592.4 409.8 L588.2 408.6 L585.4 408.3 M596.1 393.4 L598.0 401.2 L603.0 398.9 L604.6 395.4 L611.7 396.9 L615.8 391.4 L619.6 385.4 L623.8 383.1 M623.8 383.1 L619.9 380.2 L619.2 376.2 L614.4 372.2 L612.7 365.3 M623.8 383.1 L629.2 383.9 M629.2 383.9 L633.0 379.4 L634.3 372.2 L635.2 366.1 L635.2 360.8 L631.2 358.8 L627.8 353.9 M629.2 383.9 L630.7 392.2 L630.3 397.7 L630.3 401.2 L632.5 401.6 M630.3 401.2 L627.0 402.8 L626.7 399.3 L629.7 397.7 L630.3 397.7 M614.9 412.1 L618.0 409.0 L621.5 411.0 L620.4 414.8 L616.9 415.9 L614.9 412.1 M223.9 101.7 L229.0 101.7 L234.1 101.7 L239.2 101.7 L244.3 101.7 L249.5 101.7 L254.6 101.7 L259.7 101.7 L264.8 101.7 L270.0 101.7 L275.1 101.7 L280.2 101.7 L285.3 101.7 L290.5 101.7 L295.6 101.7 L297.1 100.7 L299.2 103.0 L303.6 104.6 L308.5 104.9 L312.1 103.9 L315.5 106.6 L318.9 108.9 L319.6 110.2 L321.1 111.5 L322.8 113.9 L321.8 118.3 L319.6 122.1 L317.1 124.5 L318.1 126.2 L322.7 124.5 L328.8 122.4 L329.2 120.3 L333.7 119.6 L336.8 118.3 L340.5 115.6 L342.5 114.9 L351.2 114.9 L353.5 113.5 L355.7 110.8 L357.1 109.2 L360.0 106.9 L362.2 107.2 L363.1 108.2 L361.8 112.2 L362.3 113.9 L362.8 115.6 M242.0 45.9 L233.6 51.0 L225.6 56.4 L217.8 62.2 L210.4 68.3 L213.6 68.6 L214.2 69.6 L214.6 71.8 L217.9 71.0 L221.6 70.2 L221.7 71.8 L222.4 73.5 L221.8 76.8 L221.4 78.5 L223.7 80.3 L220.5 83.8 M211.1 159.7 L218.1 159.0 L217.5 159.7 L226.6 164.3 L234.5 164.3 L235.1 162.4 L239.9 162.4 L241.7 165.4 L243.0 168.5 L242.9 170.8 L245.9 173.1 L248.4 170.4 L251.6 170.0 L253.0 173.1 L254.2 176.2 L254.9 178.9 L255.1 182.8 L257.3 184.4 L260.0 185.2 M266.6 231.1 L267.2 228.6 L268.8 224.9 L272.4 224.5 L272.7 222.5 L270.7 220.0 L271.6 219.6 L271.9 217.6 L277.2 217.6 L276.1 225.4 L277.3 225.4 M277.2 217.6 L279.0 216.8 L280.7 215.2 M278.7 226.2 L275.6 229.4 L275.1 231.5 L272.5 234.0 M275.1 231.5 L277.3 233.1 L278.7 233.6 L279.0 236.0 M280.4 237.3 L282.3 236.0 L282.5 234.0 L285.2 233.6 L287.9 230.7 L289.4 230.3 L293.4 229.0 M284.4 245.1 L286.8 245.5 L288.8 246.4 L290.3 245.9 M291.6 257.2 L292.0 254.7 L292.2 251.8 M329.4 209.9 L328.9 213.5 L327.9 214.3 L328.4 217.6 M308.3 255.5 L308.8 258.4 L306.5 261.3 M327.3 242.2 L325.2 243.1 L323.6 245.1 L321.7 250.5 L322.2 253.0 L323.2 256.3 L323.0 260.5 L324.7 262.2 L328.0 261.7 L329.7 262.2 L331.7 265.9 L334.4 265.5 L337.3 265.5 L336.3 269.3 L336.2 272.6 L337.6 277.2 L336.1 279.7 L337.8 281.8 L338.7 286.4 M338.7 286.4 L338.1 284.3 L335.7 284.3 L334.8 283.1 L330.0 284.3 L330.0 286.8 L331.8 287.3 L331.2 288.9 L329.4 289.4 L329.4 292.3 L330.6 293.5 L331.2 297.3 L329.9 309.0 M329.9 309.0 L328.4 307.4 L327.5 306.9 L329.5 302.8 L326.5 301.1 L322.6 301.5 L320.2 301.1 L318.4 296.9 L316.3 294.0 L313.6 291.9 M313.6 291.9 L310.6 289.8 L307.3 289.8 L306.4 288.1 L302.8 285.6 M313.6 291.9 L313.9 295.2 L313.0 298.2 L309.8 302.3 L306.2 304.0 L304.5 307.8 L302.9 312.4 L301.0 310.3 L298.6 309.9 L298.8 305.7 M329.9 309.0 L327.3 309.5 L324.6 310.7 L321.1 313.6 L321.0 319.1 L319.0 320.3 L318.2 322.8 L319.6 326.6 L321.5 329.1 L321.0 331.1 L323.4 331.1 L324.2 333.6 L326.8 333.6 L329.1 331.1 L329.2 337.4 L332.4 337.4 M332.4 337.4 L335.2 343.6 L335.0 348.1 L335.0 351.8 L334.3 353.9 L334.0 356.7 L335.8 360.0 L334.8 364.1 M334.8 364.1 L333.9 366.5 L332.5 367.3 M332.4 337.4 L336.0 337.4 L340.7 332.8 L344.6 332.4 L344.5 335.3 L345.0 339.4 L348.3 343.6 L351.5 344.0 L352.8 345.6 L356.2 347.7 L358.3 347.7 L359.9 349.8 L361.1 353.9 L361.6 358.8 L367.2 359.2 L367.2 363.3 L369.4 364.5 L370.2 366.9 L369.6 370.2 L368.8 373.4 L369.3 375.0 M369.3 375.0 L366.0 371.4 L363.3 371.4 L358.2 372.6 L357.2 376.2 L357.1 383.1 M357.1 383.1 L353.2 382.3 L352.2 385.4 L350.1 382.7 L346.2 381.5 L344.4 385.4 M344.4 385.4 L342.4 385.4 L340.5 380.2 L339.1 375.8 L338.6 371.8 L336.9 370.2 L334.8 364.1 M344.4 385.4 L344.5 390.2 L341.6 392.2 L342.3 400.1 L343.4 401.6 L341.5 405.1 L340.4 411.3 L340.5 419.0 L343.0 425.4 L344.8 429.5 L344.0 433.3 L344.8 436.2 L343.5 438.8 L344.1 442.1 L346.1 445.7 L344.8 446.8 L344.9 450.0 L345.4 453.5 L347.0 457.7 L346.5 458.8 L348.3 462.6 L350.0 464.6 L350.5 467.7 L352.7 470.0 L352.4 474.4 L352.1 477.0 L353.1 479.0 L351.6 482.2 L353.3 485.7 L356.2 486.6 L357.2 488.8 L359.0 490.7 L365.1 491.0 L367.6 491.6 M368.0 492.5 L371.1 499.4 M357.1 383.1 L359.8 386.2 L362.6 389.4 L365.6 390.6 L369.4 393.4 L372.5 395.0 L373.3 396.5 L371.3 402.4 L374.3 403.6 L377.5 404.0 L379.7 403.6 L381.8 400.5 L381.9 396.5 M369.3 375.0 L370.1 377.0 L370.7 382.7 L374.7 382.7 L376.9 383.9 L377.8 386.2 L378.8 390.2 L381.1 390.2 L382.3 392.6 L381.9 396.5 M381.9 396.5 L385.0 398.5 L385.2 401.6 L381.4 405.5 L378.9 409.4 L376.0 414.4 M376.0 414.4 L375.7 421.3 L376.4 425.0 L376.2 428.4 M376.0 414.4 L377.6 414.0 L381.2 417.1 L382.1 417.1 L385.2 419.4 L387.8 421.3 L389.9 423.9 L390.0 427.7 M338.7 286.4 L340.5 288.5 L343.2 288.1 L345.6 286.0 L347.1 283.5 L349.2 282.2 L346.5 281.0 L347.5 276.4 L346.3 274.3 L350.2 275.5 L351.1 274.7 L353.2 273.9 L356.8 272.6 L357.5 269.7 M357.5 269.7 L355.5 266.8 L356.2 263.4 L358.9 262.2 L358.1 260.5 L360.6 256.7 M357.5 269.7 L359.3 269.7 L360.1 273.0 L360.9 274.7 L360.0 276.4 L359.7 280.1 L360.2 283.9 L362.3 286.0 L364.1 285.2 L365.3 284.3 L367.4 283.5 L369.8 283.5 M369.8 283.5 L368.3 279.7 L367.5 277.6 L365.4 274.7 L365.8 272.2 L367.6 270.1 L368.3 266.3 M369.8 283.5 L371.6 283.1 L371.6 281.0 L374.3 281.0 L375.8 281.8 M375.8 281.8 L376.7 277.6 L376.2 273.9 L376.0 270.9 L377.5 267.6 M375.8 281.8 L377.9 281.4 L380.5 282.7 L381.5 281.0 L383.3 276.4 L384.2 274.3 M637.9 146.7 L639.2 145.6 L639.2 143.8 L642.8 143.8 L646.9 144.1 L650.8 142.7 L654.3 142.3 M654.3 142.3 L657.5 141.9 L661.2 142.3 M661.2 142.3 L659.3 139.4 L658.7 134.4 L659.6 133.3 M659.6 133.3 L656.0 131.2 L655.2 128.3 M655.2 128.3 L652.3 126.9 L649.6 126.9 M644.4 120.3 L649.8 121.0 L655.0 123.1 L659.6 123.4 L662.4 125.5 M662.4 125.5 L663.2 128.3 L659.1 127.6 M659.1 127.6 L655.2 128.3 M659.1 127.6 L661.0 130.4 L664.3 134.0 L664.7 136.1 M662.4 125.5 L665.8 127.6 L668.4 125.9 M659.6 133.3 L664.7 136.1 L668.3 133.6 L669.7 136.5 L671.6 137.9 M654.3 142.3 L652.1 145.6 L652.3 152.6 L646.6 156.3 M646.6 156.3 L641.5 160.5 L638.3 159.0 M646.6 156.3 L648.3 160.9 M648.3 160.9 L642.4 163.5 L645.7 167.3 L644.5 169.3 L640.5 172.3 L637.6 171.6 M638.3 159.0 L638.2 163.5 L637.6 171.2 M634.9 164.3 L637.3 171.2 M636.4 157.5 L638.6 156.7 L640.1 153.4 L638.3 151.9 M638.6 156.7 L638.3 159.0 M648.3 160.9 L651.8 162.0 L656.7 165.0 L665.2 172.3 L670.3 172.7 M670.3 172.7 L672.7 169.3 L674.1 169.3 M670.3 172.7 L673.4 174.6 L676.0 175.0 M661.2 142.3 L663.5 146.7 L666.2 149.6 L664.8 153.0 L665.5 156.0 L667.5 157.9 L671.5 160.5 L672.8 163.5 L672.8 165.4 L675.5 169.3 M686.0 141.9 L688.3 141.2 L689.8 139.0 L693.8 138.7 L698.3 140.5 L700.6 141.2 L704.0 144.1 L706.5 144.5 M706.5 144.5 L707.1 149.6 L706.6 154.1 L707.0 156.0 L708.9 161.6 L709.3 163.5 L711.9 163.9 L712.6 166.2 L710.7 170.0 M710.7 170.0 L714.0 174.3 L716.8 175.8 L717.7 179.7 L718.9 180.1 L719.2 182.0 L716.0 183.6 L715.5 187.9 M710.7 170.0 L715.5 171.6 L719.7 171.2 L726.0 170.0 L725.4 165.8 L728.7 163.9 L732.8 162.0 L732.5 157.9 L734.4 156.3 L733.0 154.1 L735.5 153.0 L735.8 148.5 L734.6 146.0 L737.4 143.8 L742.6 143.0 M706.5 144.5 L711.2 149.3 L713.4 147.1 L715.9 145.6 L717.7 141.9 L720.4 141.6 M720.4 141.6 L724.1 142.3 M724.1 142.3 L728.2 142.3 L730.3 140.8 L731.2 137.9 L733.3 139.8 L734.6 143.8 L737.8 142.3 L743.5 142.3 M720.4 141.6 L720.1 139.4 L713.6 136.1 L707.2 132.2 L704.2 128.0 L700.1 127.6 L698.4 124.5 L694.2 122.4 L692.6 124.5 L691.2 127.6 L688.5 127.6 L685.3 114.9 M688.5 127.6 L687.2 127.6 L684.5 125.2 L681.1 124.5 L678.8 125.9 M685.3 114.9 L691.4 113.2 L699.0 116.9 L702.5 120.0 L710.0 119.3 L713.7 122.1 L714.6 125.2 L717.3 128.0 L721.0 128.7 L723.3 127.3 L725.1 124.5 L727.6 124.1 M727.6 124.1 L727.7 122.7 L734.1 123.4 L733.8 121.7 L735.1 121.0 L739.0 122.4 L742.8 121.7 L748.3 122.4 L752.3 124.5 M752.3 124.5 L751.5 121.7 L752.6 121.0 L749.9 116.6 L748.1 115.2 L752.8 113.9 L754.1 113.2 L752.2 109.9 L753.0 107.5 L759.6 107.9 L758.4 103.6 L760.4 102.3 L761.1 101.0 M761.1 101.0 L758.2 99.4 L755.1 99.8 L752.4 97.8 L748.6 95.3 L745.2 96.0 L741.2 95.6 L740.1 96.0 L737.7 93.5 L730.9 88.2 L726.3 85.5 L722.3 87.3 L719.3 86.1 L713.3 85.5 L711.4 82.6 L706.4 82.3 L705.0 83.5 L698.5 85.2 L693.3 85.8 L689.8 86.1 L689.7 89.2 L692.3 89.5 L689.7 90.4 L685.4 91.0 L688.5 92.5 L692.9 94.4 L693.3 96.0 L689.7 96.0 L688.8 96.9 L684.5 95.3 L681.5 95.3 L679.1 96.6 L675.7 95.3 L669.4 93.1 L665.7 93.1 L662.1 96.3 L661.6 98.8 L657.4 97.5 L657.7 100.7 L657.6 103.3 L660.3 105.6 L662.7 105.9 L665.8 110.2 M752.3 124.5 L748.6 126.9 L747.8 128.7 L744.9 128.7 L743.1 130.8 L739.9 130.8 L738.1 131.9 L738.0 134.4 M738.0 134.4 L739.5 137.6 L742.3 137.9 L743.5 142.3 M738.0 134.4 L733.4 134.4 L730.6 134.0 L729.1 133.6 L726.4 133.6 L725.3 131.5 L728.8 131.5 L729.9 131.5 L727.8 129.0 M727.8 129.0 L730.9 127.6 L734.6 129.4 L731.2 126.9 L729.4 128.0 L726.3 126.6 L727.6 124.1 M724.1 142.3 L724.6 139.0 L723.3 136.1 L721.1 135.1 L723.7 133.6 L724.6 131.9 L724.8 129.7 L727.8 129.0 M735.4 193.9 L738.8 191.5 L740.7 191.1 L743.0 191.1 L739.2 185.6 L739.4 182.8 L737.1 181.3 L738.9 177.0 L742.9 177.4 L745.0 173.5 L746.2 169.3 L748.2 165.4 L747.3 162.8 L749.3 160.5 L746.3 158.6 L744.9 156.0 L743.3 153.0 L744.2 151.1 L748.7 152.2 L751.5 150.4 L753.2 148.5 M742.6 143.0 L744.6 143.0 L746.6 144.5 L748.4 147.1 L753.2 148.5 M753.2 148.5 L757.5 153.0 L758.0 156.0 L760.0 159.7 L758.1 159.7 L759.5 163.5 L762.9 165.8 L767.4 168.5 M767.4 168.5 L770.9 168.9 L774.3 171.2 L777.5 173.9 L779.9 174.6 L783.3 177.0 L786.7 177.0 L789.3 177.4 M767.4 168.5 L766.2 170.4 L765.8 173.9 L769.3 175.4 L772.0 177.4 L776.1 179.3 L780.3 180.1 L782.4 182.0 L788.1 183.2 L790.4 183.2 L790.4 180.9 L789.3 177.4 M789.3 177.4 L790.9 176.6 L791.9 179.7 M791.9 179.7 L793.2 177.0 L794.4 175.8 L799.7 177.8 L801.4 181.7 L796.8 181.3 L795.2 182.0 L791.9 179.7 M799.7 177.8 L801.9 177.4 L803.8 174.6 L806.5 171.9 L809.0 173.1 L810.9 171.6 L810.5 171.2 L815.1 175.8 M815.1 175.8 L815.8 177.4 L815.7 180.5 L813.5 179.7 L811.3 184.8 L810.7 189.9 L810.0 193.1 L807.5 192.3 L808.0 197.9 L808.6 199.4 L807.4 200.6 L806.3 202.7 L807.4 205.9 M796.7 201.0 L795.7 197.1 L794.0 194.3 L794.1 191.9 L792.2 190.7 L792.4 189.1 L793.9 187.9 L791.4 185.6 L792.1 183.2 L794.7 184.8 L795.8 184.8 L796.4 187.5 L799.8 188.3 L802.8 187.9 L803.9 189.1 L802.3 192.3 L801.9 194.7 L803.7 196.7 L803.8 194.3 L805.0 194.3 L807.4 200.6 M815.1 175.8 L818.3 178.1 L819.9 178.9 L821.4 185.2 L819.3 188.3 L820.0 192.7 L823.1 192.7 L824.5 196.3 L826.4 197.1 L826.2 200.2 L828.8 201.9 L832.4 202.7 M832.4 202.7 L831.5 203.9 L830.1 207.1 M830.1 207.1 L828.5 207.9 L827.0 209.5 L825.0 209.9 L824.6 214.3 L823.6 215.2 L825.9 218.8 L829.2 223.3 L828.7 227.8 L827.9 229.0 L828.7 230.7 L831.2 234.0 L832.1 238.9 L833.6 241.8 L832.2 245.5 L831.4 249.7 M832.4 202.7 L834.4 203.9 L833.2 199.4 L834.6 199.0 M834.6 199.0 L835.8 197.9 L838.1 197.9 L840.9 197.5 L842.8 195.5 L847.3 197.5 L847.5 199.8 L850.4 202.3 L852.1 202.3 M834.6 199.0 L836.9 201.9 L838.8 205.5 L842.3 205.5 L844.1 209.1 L842.6 210.3 L842.0 211.5 L845.9 213.9 L849.1 218.8 L851.7 222.5 L854.2 225.4 L855.5 228.2 L855.5 232.3 M830.1 207.1 L832.2 210.7 L834.2 210.7 L834.1 215.2 L835.1 219.2 L837.5 216.4 L838.5 217.2 L840.2 216.8 L841.1 215.2 L843.8 216.8 L845.6 219.2 L846.6 223.3 L849.4 226.6 L849.0 231.9 M849.0 231.9 L851.5 233.6 L852.6 230.7 L855.5 232.3 M849.0 231.9 L846.3 231.5 L842.5 232.3 L840.9 235.6 L842.3 240.6 L843.4 242.6 M855.5 232.3 L856.5 235.2 L856.8 240.2 L854.0 241.4 L852.1 243.1 L853.5 245.5 L850.6 245.9 L848.7 248.0 M836.9 264.3 L837.4 263.8 L839.9 265.5 L840.0 267.6 L842.1 267.2 L842.9 265.5 M762.3 101.0 L766.9 104.6 L771.1 105.9 L774.1 108.5 L776.3 113.9 L779.8 114.5 L783.6 114.9 L787.6 116.9 L789.5 117.6 L792.2 120.7 L794.4 122.7 L797.6 122.7 L803.2 123.4 L806.4 122.7 L809.4 123.4 L814.3 125.5 L817.5 125.5 L819.3 126.6 L821.5 124.8 L825.1 123.4 L829.1 123.4 L831.6 122.1 L832.5 120.3 L833.9 119.3 L832.9 117.9 L831.1 116.6 L831.6 114.5 L836.4 115.6 L838.0 113.9 L840.9 112.5 L841.7 110.2 L842.9 109.2 L846.6 108.9 L849.1 109.2 L848.2 108.2 L842.1 104.9 L840.6 105.9 L837.6 105.2 L836.5 105.9 L835.2 104.6 L834.9 101.4 L834.7 99.1 M762.3 101.0 L764.4 100.1 L767.9 97.5 L770.9 96.0 L773.6 96.9 L776.2 96.9 L778.8 98.5 L781.3 98.5 L785.7 99.4 L786.7 97.2 L784.6 95.3 L785.5 92.2 L788.8 93.5 L791.5 93.8 L794.9 94.4 L796.9 96.9 L801.2 98.2 L803.1 97.5 L806.2 97.2 L808.9 97.5 L812.4 99.1 L814.9 100.7 L817.2 100.7 L820.9 101.4 L822.6 100.4 L825.7 100.1 L828.1 97.8 L829.8 98.2 L831.7 99.1 L834.7 99.1 M834.7 99.1 L838.4 100.1 L840.7 98.2 L839.6 96.6 L839.6 93.5 L840.0 92.2 L838.8 90.7 L836.9 89.8 L837.5 88.2 L840.4 87.9 L843.6 87.6 L848.1 88.6 L851.0 89.8 L859.5 96.3 L862.6 99.1 L867.9 100.4 L872.6 102.6 L875.7 105.6 L879.5 105.6 L880.9 104.3 L884.3 103.3 L885.1 106.2 L885.0 107.5 L886.7 111.2 L887.1 114.5 L883.6 113.9 L882.1 115.2 L884.5 117.9 L886.3 121.7 L886.2 123.8 M886.2 123.8 L883.6 122.1 L883.5 123.8 L880.3 125.2 L881.6 126.9 L879.1 126.9 L877.5 125.9 L877.0 128.3 L874.9 130.1 L873.9 132.2 M882.9 140.1 L884.3 140.1 L884.2 138.3 L887.3 137.9 L887.5 137.2 M664.3 223.3 L665.4 222.1 L665.8 218.4 L667.9 219.2 L671.1 219.2 L674.7 220.0 L675.5 219.6 L676.5 221.3 L678.0 220.4 L679.7 216.0 L682.2 214.3 L690.5 212.7 M690.5 212.7 L694.5 222.5 M690.5 212.7 L698.9 208.7 L700.1 200.6 L698.3 197.9 M698.3 197.9 L690.7 197.1 L687.3 192.3 M698.3 197.9 L699.4 192.7 L700.4 189.1 M684.7 189.9 L685.9 190.3 M959.7 302.3 L959.2 311.3 L958.6 320.3 L958.0 320.7 L957.7 329.5 M865.9 283.1 L866.6 286.0 L868.7 288.1 L870.8 287.3 L873.1 285.6 L875.8 285.2 L878.5 286.4 L880.9 285.6 L882.3 279.7 L883.4 278.0 L884.1 273.4 L889.2 273.9 M879.3 272.6 L880.6 274.7 L883.0 273.4 L882.8 270.5 M910.3 327.8 L910.3 330.7 M515.1 125.5 L516.7 124.8 L517.2 125.9 L520.9 125.5 L522.0 126.6 L520.3 128.3 L520.0 131.2 L519.6 133.3 L518.3 133.6 L519.6 135.4 L518.7 137.6 L519.5 139.0 L518.1 140.8 L518.3 142.3 M533.8 120.3 L534.8 121.7 L536.7 122.1 L540.4 122.4 L540.4 123.1 L543.3 123.8 L547.1 123.8 M558.3 119.0 L558.6 117.6 L556.7 116.9 L556.9 114.5 L556.3 114.2 L557.1 113.2 L556.3 112.2 L556.8 111.9 M556.8 111.9 L556.2 110.2 L554.7 110.8 L554.1 110.5 L556.1 107.5 L556.6 106.6 L558.1 106.2 M556.8 111.9 L559.1 111.9 L560.4 110.2 L562.0 112.2 L562.7 109.9 L564.8 110.5 L565.5 109.9 M565.5 109.9 L565.5 108.5 L563.4 107.9 L563.0 106.6 M558.1 106.2 L560.4 105.9 L563.0 106.6 M558.1 106.2 L558.0 103.9 L559.5 101.7 L557.4 101.0 L554.8 100.1 M554.8 100.1 L553.3 100.1 L550.7 98.5 L549.2 98.5 L546.6 96.3 L544.8 95.0 M547.1 94.1 L549.3 94.1 L551.1 93.8 L553.1 94.7 L552.9 96.0 L553.7 96.0 M553.7 96.0 L554.5 97.5 L554.0 98.2 L554.8 100.1 M553.7 96.0 L553.6 92.8 L555.5 91.6 L556.0 90.4 L556.4 88.6 M559.5 83.5 L562.5 83.8 M573.5 86.4 L574.2 89.2 L575.2 91.6 L575.8 95.3 M575.8 95.3 L571.4 96.9 L569.4 97.5 L571.2 100.7 L573.8 102.6 M573.8 102.6 L571.9 103.9 L571.8 105.9 L569.5 106.2 L565.6 106.6 L563.0 106.6 M565.5 109.9 L567.0 108.9 L570.1 108.2 L571.0 109.2 L574.1 109.9 M574.1 109.9 L574.0 111.5 L574.3 112.9 M574.1 109.9 L577.5 109.5 L580.3 108.9 M580.3 108.9 L581.1 106.6 L582.2 104.9 M573.8 102.6 L576.8 101.7 L581.8 103.0 L582.2 104.9 M575.8 95.3 L578.9 96.6 L581.5 97.5 L586.4 100.1 M586.4 100.1 L582.5 102.3 L581.8 103.0 M586.4 100.1 L589.5 101.0 L595.9 101.4 M595.9 101.4 L598.0 97.5 L599.1 96.3 L597.7 93.8 M597.7 93.8 L597.0 90.7 L597.7 88.6 L596.3 86.1 M596.3 86.1 L594.4 84.9 M594.4 84.9 L587.1 84.9 M594.4 84.9 L594.2 83.2 L590.1 82.3 M589.5 80.0 L592.8 79.1 L596.4 79.4 L600.1 79.7 L603.0 81.1 M596.6 74.8 L600.5 75.1 L604.0 76.0 M604.0 76.0 L604.1 73.2 L604.2 70.4 M604.0 76.0 L606.6 79.7 M606.6 79.7 L603.0 81.1 M603.0 81.1 L601.6 85.2 L596.3 86.1 M606.6 79.7 L613.3 81.4 L614.5 84.7 L618.8 87.6 L617.2 91.9 M617.2 91.9 L613.7 93.8 L606.2 93.5 L601.0 92.5 L597.7 93.8 M617.2 91.9 L623.3 91.3 L628.2 96.9 L634.9 98.5 L640.2 99.8 L640.8 104.9 L637.6 107.9 M595.9 101.4 L595.4 103.6 L597.4 104.9 L602.4 105.6 L606.8 103.9 M606.8 103.9 L610.3 103.3 L613.6 104.9 L616.4 109.9 L612.2 113.2 M606.8 103.9 L611.7 109.9 L612.2 113.2 L616.2 113.9 M582.2 104.9 L586.9 105.6 L589.9 104.3 L595.4 103.6 M597.4 104.9 L594.2 108.9 L591.4 111.2 M591.4 111.2 L587.8 111.9 M587.8 111.9 L584.1 111.5 L581.4 109.9 L580.3 108.9 M591.4 111.2 L594.7 115.6 L597.7 116.6 L598.3 117.6 M598.3 117.6 L601.9 119.3 L607.1 118.6 L611.1 118.3 L614.1 119.3 M598.3 117.6 L598.2 121.7 L598.2 124.1 M598.2 124.1 L600.2 127.6 M600.2 127.6 L604.1 126.9 L608.2 127.6 L609.1 126.2 M609.1 126.2 L611.9 125.2 L613.3 125.2 M609.1 126.2 L609.8 127.6 L608.7 129.7 M592.6 133.3 L594.3 131.2 L595.0 129.4 M595.0 129.4 L597.5 128.3 L600.2 127.6 M595.0 129.4 L593.5 125.5 M593.5 125.5 L591.7 123.1 L590.3 125.5 M593.5 125.5 L595.8 124.1 L598.2 124.1 M574.3 113.2 L578.5 113.2 L579.4 110.8 L581.4 109.9 M579.9 114.2 L583.0 114.2 L588.3 114.9 L588.4 115.2 M579.9 114.2 L580.7 117.6 L584.9 121.0 L587.8 123.4 M588.4 115.2 L589.7 118.3 L589.3 120.0 M589.3 120.0 L587.8 123.4 M587.8 111.9 L588.4 115.2 M589.3 120.0 L592.5 122.4 L591.7 123.1 M565.6 71.8 L566.1 69.6 L567.6 68.3 L567.0 66.4 L568.0 65.4 L566.5 63.8 L566.2 61.3 L567.3 58.8 L569.4 58.3 L570.0 55.9 L570.6 53.8 L572.4 53.1 L573.9 51.3 L574.0 50.0 L576.7 49.3 L577.4 48.5 L581.1 48.7 L581.6 47.4 M582.0 47.4 L585.1 48.5 L589.0 49.8 L589.5 51.3 L590.8 52.2 L590.5 53.6 L591.6 54.5 M582.0 47.4 L584.0 46.8 L586.4 47.8 L589.2 47.8 L591.8 48.0 L593.3 47.4 L593.2 45.9 L596.7 45.1 L599.6 46.2 L600.5 46.8 L599.6 47.4 M599.6 47.4 L601.5 46.6 L603.5 46.4 L603.5 45.7 M599.6 47.4 L599.5 48.9 L602.7 50.2 L602.1 52.2 L604.4 54.1 L604.5 56.4 L606.3 58.8 L607.3 60.1 L610.0 61.6 L607.4 64.4 L603.1 67.8 M520.7 83.2 L519.0 84.7 L520.1 85.8 L523.1 85.8" fill="none" stroke="#575757" stroke-width="2.0" stroke-linejoin="round" stroke-linecap="round"/>
</g>
<path d="M269.65 22.55 L807.45 22.55 A268.9 268.9 0 0 1 807.45 560.35 L269.65 560.35 A268.9 268.9 0 0 1 269.65 22.55 Z" fill="none" stroke="#555555" stroke-width="3"/>
<g>
<g fill="#1B9E77"><circle cx="492.6" cy="176.8" r="8.45"/><circle cx="743.6" cy="187.9" r="8.45"/><circle cx="570.3" cy="290.2" r="8.45"/><circle cx="578.2" cy="290.5" r="8.45"/><circle cx="650.9" cy="293.5" r="8.45"/><circle cx="704.7" cy="312.3" r="8.45"/><circle cx="701.1" cy="379.5" r="8.45"/><circle cx="590.5" cy="431.4" r="8.45"/><circle cx="769.1" cy="111.3" r="8.45"/><circle cx="779.0" cy="130.7" r="8.45"/><circle cx="809.1" cy="130.3" r="8.45"/><circle cx="850.3" cy="134.5" r="8.45"/><circle cx="915.8" cy="119.4" r="8.45"/><circle cx="920.0" cy="125.5" r="8.45"/><circle cx="890.7" cy="141.2" r="8.45"/><circle cx="775.8" cy="176.1" r="8.45"/><circle cx="743.9" cy="188.2" r="8.45"/><circle cx="806.7" cy="171.2" r="8.45"/><circle cx="802.4" cy="180.9" r="8.45"/><circle cx="806.7" cy="194.2" r="8.45"/><circle cx="825.5" cy="162.7" r="8.45"/><circle cx="820.6" cy="171.2" r="8.45"/><circle cx="829.1" cy="171.2" r="8.45"/><circle cx="824.2" cy="180.9" r="8.45"/><circle cx="832.7" cy="178.5" r="8.45"/><circle cx="817.0" cy="178.5" r="8.45"/><circle cx="829.1" cy="190.6" r="8.45"/><circle cx="821.8" cy="188.2" r="8.45"/><circle cx="841.2" cy="187.0" r="8.45"/><circle cx="848.5" cy="190.6" r="8.45"/><circle cx="853.3" cy="188.2" r="8.45"/><circle cx="882.4" cy="175.5" r="8.45"/><circle cx="877.6" cy="190.6" r="8.45"/><circle cx="871.5" cy="187.0" r="8.45"/><circle cx="848.5" cy="162.1" r="8.45"/><circle cx="889.7" cy="153.0" r="8.45"/><circle cx="917.0" cy="145.8" r="8.45"/><circle cx="926.1" cy="149.4" r="8.45"/><circle cx="915.2" cy="152.4" r="8.45"/><circle cx="773.9" cy="235.2" r="8.45"/><circle cx="767.9" cy="246.7" r="8.45"/><circle cx="829.1" cy="190.9" r="8.45"/><circle cx="831.5" cy="204.2" r="8.45"/><circle cx="841.2" cy="201.8" r="8.45"/><circle cx="848.5" cy="198.2" r="8.45"/><circle cx="853.3" cy="192.1" r="8.45"/><circle cx="838.8" cy="192.1" r="8.45"/><circle cx="877.6" cy="192.1" r="8.45"/><circle cx="871.5" cy="200.6" r="8.45"/><circle cx="877.6" cy="184.8" r="8.45"/><circle cx="858.2" cy="214.5" r="8.45"/><circle cx="831.5" cy="228.1" r="8.45"/><circle cx="838.2" cy="233.3" r="8.45"/><circle cx="842.4" cy="240.6" r="8.45"/><circle cx="561.5" cy="62.8" r="8.45"/><circle cx="580.3" cy="59.6" r="8.45"/><circle cx="552.4" cy="69.7" r="8.45"/><circle cx="591.8" cy="69.1" r="8.45"/><circle cx="586.4" cy="63.0" r="8.45"/><circle cx="570.6" cy="64.2" r="8.45"/><circle cx="590.0" cy="73.9" r="8.45"/><circle cx="557.3" cy="73.9" r="8.45"/><circle cx="573.0" cy="72.7" r="8.45"/><circle cx="545.8" cy="103.3" r="8.45"/><circle cx="557.3" cy="108.2" r="8.45"/><circle cx="567.0" cy="108.2" r="8.45"/><circle cx="581.5" cy="102.1" r="8.45"/><circle cx="567.0" cy="96.1" r="8.45"/><circle cx="515.5" cy="124.5" r="8.45"/><circle cx="523.9" cy="121.8" r="8.45"/><circle cx="517.3" cy="132.4" r="8.45"/><circle cx="542.7" cy="120.9" r="8.45"/><circle cx="554.2" cy="122.1" r="8.45"/><circle cx="563.9" cy="137.5" r="8.45"/><circle cx="548.8" cy="136.1" r="8.45"/><circle cx="582.7" cy="134.8" r="8.45"/><circle cx="610.6" cy="136.7" r="8.45"/><circle cx="525.2" cy="145.2" r="8.45"/><circle cx="533.0" cy="143.3" r="8.45"/><circle cx="637.3" cy="165.5" r="8.45"/><circle cx="379.0" cy="99.2" r="8.45"/><circle cx="249.9" cy="97.6" r="8.45"/><circle cx="230.3" cy="99.2" r="8.45"/><circle cx="295.8" cy="98.4" r="8.45"/><circle cx="326.3" cy="106.4" r="8.45"/><circle cx="337.0" cy="113.0" r="8.45"/><circle cx="346.7" cy="114.5" r="8.45"/><circle cx="364.2" cy="118.2" r="8.45"/><circle cx="372.7" cy="117.8" r="8.45"/><circle cx="356.4" cy="120.0" r="8.45"/><circle cx="349.7" cy="128.5" r="8.45"/><circle cx="313.3" cy="119.4" r="8.45"/><circle cx="220.0" cy="106.1" r="8.45"/><circle cx="215.4" cy="115.2" r="8.45"/><circle cx="210.5" cy="124.6" r="8.45"/><circle cx="247.9" cy="121.2" r="8.45"/><circle cx="211.5" cy="129.4" r="8.45"/><circle cx="205.5" cy="139.1" r="8.45"/><circle cx="214.5" cy="141.5" r="8.45"/><circle cx="228.5" cy="153.0" r="8.45"/><circle cx="246.1" cy="156.7" r="8.45"/><circle cx="241.8" cy="162.1" r="8.45"/><circle cx="263.6" cy="170.0" r="8.45"/><circle cx="307.3" cy="174.2" r="8.45"/><circle cx="243.0" cy="138.1" r="8.45"/><circle cx="252.7" cy="137.9" r="8.45"/><circle cx="254.8" cy="134.2" r="8.45"/><circle cx="300.0" cy="158.5" r="8.45"/><circle cx="308.5" cy="158.5" r="8.45"/><circle cx="317.0" cy="158.5" r="8.45"/><circle cx="331.5" cy="137.3" r="8.45"/><circle cx="336.4" cy="134.2" r="8.45"/><circle cx="312.1" cy="145.2" r="8.45"/><circle cx="218.6" cy="56.7" r="8.45"/><circle cx="307.9" cy="174.8" r="8.45"/><circle cx="308.5" cy="187.6" r="8.45"/><circle cx="294.5" cy="202.1" r="8.45"/><circle cx="280.0" cy="210.6" r="8.45"/><circle cx="233.3" cy="211.8" r="8.45"/><circle cx="254.5" cy="216.9" r="8.45"/><circle cx="329.7" cy="217.6" r="8.45"/><circle cx="346.3" cy="217.4" r="8.45"/><circle cx="335.2" cy="242.4" r="8.45"/><circle cx="328.5" cy="254.2" r="8.45"/><circle cx="343.0" cy="250.6" r="8.45"/><circle cx="289.9" cy="250.0" r="8.45"/><circle cx="767.1" cy="244.4" r="8.45"/><circle cx="768.6" cy="250.5" r="8.45"/><circle cx="779.2" cy="265.9" r="8.45"/><circle cx="842.9" cy="280.8" r="8.45"/><circle cx="879.2" cy="275.8" r="8.45"/><circle cx="1030.9" cy="356.4" r="8.45"/><circle cx="975.8" cy="405.7" r="8.45"/><circle cx="976.7" cy="410.5" r="8.45"/><circle cx="970.9" cy="422.9" r="8.45"/><circle cx="961.2" cy="431.4" r="8.45"/><circle cx="949.1" cy="439.2" r="8.45"/><circle cx="1019.4" cy="438.6" r="8.45"/><circle cx="981.8" cy="469.5" r="8.45"/><circle cx="995.8" cy="462.4" r="8.45"/><circle cx="1006.7" cy="456.4" r="8.45"/><circle cx="85.3" cy="207.3" r="8.45"/><circle cx="292.7" cy="255.8" r="8.45"/><circle cx="329.1" cy="256.4" r="8.45"/><circle cx="356.4" cy="269.1" r="8.45"/><circle cx="358.2" cy="280.6" r="8.45"/><circle cx="269.5" cy="295.5" r="8.45"/><circle cx="269.5" cy="298.3" r="8.45"/><circle cx="359.4" cy="303.9" r="8.45"/><circle cx="364.2" cy="306.1" r="8.45"/><circle cx="394.5" cy="298.8" r="8.45"/><circle cx="408.2" cy="305.0" r="8.45"/><circle cx="430.9" cy="320.6" r="8.45"/><circle cx="434.5" cy="326.9" r="8.45"/><circle cx="420.0" cy="330.9" r="8.45"/><circle cx="412.1" cy="338.2" r="8.45"/><circle cx="426.1" cy="338.8" r="8.45"/><circle cx="418.8" cy="347.3" r="8.45"/><circle cx="426.1" cy="347.0" r="8.45"/><circle cx="421.2" cy="350.3" r="8.45"/><circle cx="330.3" cy="344.2" r="8.45"/><circle cx="362.4" cy="347.3" r="8.45"/><circle cx="412.1" cy="367.3" r="8.45"/><circle cx="351.5" cy="395.0" r="8.45"/><circle cx="371.2" cy="399.8" r="8.45"/><circle cx="375.8" cy="373.2" r="8.45"/><circle cx="398.8" cy="402.3" r="8.45"/><circle cx="401.2" cy="407.1" r="8.45"/><circle cx="397.6" cy="415.6" r="8.45"/><circle cx="410.9" cy="390.2" r="8.45"/><circle cx="355.2" cy="415.6" r="8.45"/><circle cx="339.4" cy="437.6" r="8.45"/><circle cx="351.5" cy="430.0" r="8.45"/><circle cx="358.2" cy="422.1" r="8.45"/><circle cx="392.7" cy="422.7" r="8.45"/><circle cx="399.4" cy="412.4" r="8.45"/><circle cx="400.6" cy="407.6" r="8.45"/><circle cx="347.3" cy="418.5" r="8.45"/><circle cx="346.7" cy="457.0" r="8.45"/></g>
<path fill="#7570B3" d="M491.1 214.8l10.45 18.10h-20.90zM745.6 141.3l10.45 18.10h-20.90zM757.0 166.7l10.45 18.10h-20.90zM753.5 199.2l10.45 18.10h-20.90zM571.7 248.8l10.45 18.10h-20.90zM653.6 301.8l10.45 18.10h-20.90zM671.4 381.7l10.45 18.10h-20.90zM620.3 395.6l10.45 18.10h-20.90zM626.4 395.9l10.45 18.10h-20.90zM624.1 405.0l10.45 18.10h-20.90zM589.5 402.7l10.45 18.10h-20.90zM599.8 414.1l10.45 18.10h-20.90zM607.7 415.8l10.45 18.10h-20.90zM590.0 417.2l10.45 18.10h-20.90zM751.8 104.6l10.45 18.10h-20.90zM757.6 108.5l10.45 18.10h-20.90zM764.8 105.8l10.45 18.10h-20.90zM769.7 107.3l10.45 18.10h-20.90zM775.2 109.7l10.45 18.10h-20.90zM847.3 91.8l10.45 18.10h-20.90zM826.1 115.5l10.45 18.10h-20.90zM833.9 117.8l10.45 18.10h-20.90zM846.1 112.1l10.45 18.10h-20.90zM850.3 111.3l10.45 18.10h-20.90zM841.2 118.8l10.45 18.10h-20.90zM862.4 128.8l10.45 18.10h-20.90zM809.5 122.4l10.45 18.10h-20.90zM815.8 130.9l10.45 18.10h-20.90zM820.6 133.3l10.45 18.10h-20.90zM746.1 142.2l10.45 18.10h-20.90zM837.0 145.5l10.45 18.10h-20.90zM924.2 134.3l10.45 18.10h-20.90zM815.5 131.7l10.45 18.10h-20.90zM820.9 137.0l10.45 18.10h-20.90zM812.0 137.0l10.45 18.10h-20.90zM745.7 141.9l10.45 18.10h-20.90zM758.8 159.7l10.45 18.10h-20.90zM753.9 166.4l10.45 18.10h-20.90zM817.6 140.3l10.45 18.10h-20.90zM830.3 122.7l10.45 18.10h-20.90zM836.6 144.9l10.45 18.10h-20.90zM880.6 155.5l10.45 18.10h-20.90zM881.2 151.8l10.45 18.10h-20.90zM858.2 147.6l10.45 18.10h-20.90zM872.7 148.2l10.45 18.10h-20.90zM867.3 150.0l10.45 18.10h-20.90zM849.2 158.6l10.45 18.10h-20.90zM861.2 166.4l10.45 18.10h-20.90zM866.7 168.8l10.45 18.10h-20.90zM843.6 176.8l10.45 18.10h-20.90zM863.0 188.2l10.45 18.10h-20.90zM753.3 199.2l10.45 18.10h-20.90zM766.1 222.8l10.45 18.10h-20.90zM775.2 226.4l10.45 18.10h-20.90zM861.2 201.6l10.45 18.10h-20.90zM560.9 67.3l10.45 18.10h-20.90zM578.5 65.7l10.45 18.10h-20.90zM567.0 70.3l10.45 18.10h-20.90zM571.8 69.7l10.45 18.10h-20.90zM552.4 78.8l10.45 18.10h-20.90zM546.4 83.0l10.45 18.10h-20.90zM554.8 86.1l10.45 18.10h-20.90zM564.5 72.7l10.45 18.10h-20.90zM574.2 72.7l10.45 18.10h-20.90zM593.0 77.6l10.45 18.10h-20.90zM596.1 87.3l10.45 18.10h-20.90zM546.4 106.4l10.45 18.10h-20.90zM548.2 119.7l10.45 18.10h-20.90zM574.8 109.4l10.45 18.10h-20.90zM582.1 116.1l10.45 18.10h-20.90zM573.0 111.2l10.45 18.10h-20.90zM532.4 116.1l10.45 18.10h-20.90zM519.5 124.5l10.45 18.10h-20.90zM527.0 126.4l10.45 18.10h-20.90zM523.3 134.2l10.45 18.10h-20.90zM534.2 130.0l10.45 18.10h-20.90zM609.8 123.1l10.45 18.10h-20.90zM636.3 148.2l10.45 18.10h-20.90zM546.6 111.7l10.45 18.10h-20.90zM549.1 118.8l10.45 18.10h-20.90zM542.7 117.0l10.45 18.10h-20.90zM518.8 125.9l10.45 18.10h-20.90zM531.3 129.5l10.45 18.10h-20.90zM292.7 85.8l10.45 18.10h-20.90zM218.8 100.6l10.45 18.10h-20.90zM234.5 97.0l10.45 18.10h-20.90zM243.6 96.4l10.45 18.10h-20.90zM264.2 113.9l10.45 18.10h-20.90zM282.4 110.5l10.45 18.10h-20.90zM303.6 109.1l10.45 18.10h-20.90zM329.1 106.1l10.45 18.10h-20.90zM314.5 111.8l10.45 18.10h-20.90zM220.7 106.2l10.45 18.10h-20.90zM232.1 106.2l10.45 18.10h-20.90zM243.0 106.2l10.45 18.10h-20.90zM240.7 114.1l10.45 18.10h-20.90zM246.1 123.8l10.45 18.10h-20.90zM207.3 125.2l10.45 18.10h-20.90zM205.6 130.7l10.45 18.10h-20.90zM209.6 130.7l10.45 18.10h-20.90zM227.9 147.6l10.45 18.10h-20.90zM258.8 157.5l10.45 18.10h-20.90zM241.2 172.8l10.45 18.10h-20.90zM307.3 165.8l10.45 18.10h-20.90zM283.3 136.8l10.45 18.10h-20.90zM299.8 133.2l10.45 18.10h-20.90zM320.4 138.6l10.45 18.10h-20.90zM297.1 123.5l10.45 18.10h-20.90zM333.2 119.2l10.45 18.10h-20.90zM313.3 119.7l10.45 18.10h-20.90zM323.0 119.7l10.45 18.10h-20.90zM248.5 124.7l10.45 18.10h-20.90zM325.5 116.4l10.45 18.10h-20.90zM336.4 118.8l10.45 18.10h-20.90zM317.0 120.0l10.45 18.10h-20.90zM330.3 120.0l10.45 18.10h-20.90zM244.4 113.4l10.45 18.10h-20.90zM240.9 121.3l10.45 18.10h-20.90zM223.1 163.3l10.45 18.10h-20.90zM325.3 134.8l10.45 18.10h-20.90zM236.0 105.9l10.45 18.10h-20.90zM221.2 161.0l10.45 18.10h-20.90zM226.7 168.9l10.45 18.10h-20.90zM240.6 173.0l10.45 18.10h-20.90zM246.4 191.8l10.45 18.10h-20.90zM256.6 199.7l10.45 18.10h-20.90zM279.6 191.2l10.45 18.10h-20.90zM307.9 165.8l10.45 18.10h-20.90zM333.3 198.2l10.45 18.10h-20.90zM344.8 202.7l10.45 18.10h-20.90zM287.3 236.7l10.45 18.10h-20.90zM315.2 251.2l10.45 18.10h-20.90zM338.2 242.1l10.45 18.10h-20.90zM922.8 420.8l10.45 18.10h-20.90zM933.3 428.3l10.45 18.10h-20.90zM937.0 428.9l10.45 18.10h-20.90zM946.4 415.0l10.45 18.10h-20.90zM957.0 408.6l10.45 18.10h-20.90zM964.2 401.4l10.45 18.10h-20.90zM960.0 407.1l10.45 18.10h-20.90zM943.0 422.9l10.45 18.10h-20.90zM1019.4 423.8l10.45 18.10h-20.90zM1018.2 430.2l10.45 18.10h-20.90zM1009.7 436.2l10.45 18.10h-20.90zM1001.2 442.9l10.45 18.10h-20.90zM993.3 448.9l10.45 18.10h-20.90zM985.5 452.9l10.45 18.10h-20.90zM1012.1 441.1l10.45 18.10h-20.90zM1004.8 445.9l10.45 18.10h-20.90zM308.8 321.8l10.45 18.10h-20.90zM370.3 338.2l10.45 18.10h-20.90zM384.8 345.5l10.45 18.10h-20.90zM395.8 342.4l10.45 18.10h-20.90zM398.4 341.6l10.45 18.10h-20.90zM398.2 350.9l10.45 18.10h-20.90zM379.4 364.0l10.45 18.10h-20.90zM414.5 361.5l10.45 18.10h-20.90zM379.4 364.1l10.45 18.10h-20.90zM372.8 367.2l10.45 18.10h-20.90zM383.0 370.9l10.45 18.10h-20.90zM396.4 362.3l10.45 18.10h-20.90zM395.2 374.4l10.45 18.10h-20.90zM414.5 361.7l10.45 18.10h-20.90zM419.9 368.5l10.45 18.10h-20.90zM416.2 373.3l10.45 18.10h-20.90zM364.2 391.4l10.45 18.10h-20.90zM339.4 407.1l10.45 18.10h-20.90zM358.8 408.3l10.45 18.10h-20.90zM384.2 402.9l10.45 18.10h-20.90zM389.7 405.9l10.45 18.10h-20.90zM339.4 406.4l10.45 18.10h-20.90zM342.2 416.7l10.45 18.10h-20.90zM362.4 407.7l10.45 18.10h-20.90zM389.1 407.7l10.45 18.10h-20.90zM383.4 425.8l10.45 18.10h-20.90zM343.0 442.1l10.45 18.10h-20.90z"/>
<path fill="#D95F02" d="M618.1 404.7h15.7v15.7h-15.7zM582.1 420.2h15.7v15.7h-15.7zM844.5 124.2h15.7v15.7h-15.7zM916.4 140.0h15.7v15.7h-15.7zM906.1 143.3h15.7v15.7h-15.7zM853.0 159.1h15.7v15.7h-15.7zM515.8 79.9h15.7v15.7h-15.7zM541.8 86.5h15.7v15.7h-15.7zM520.8 123.0h15.7v15.7h-15.7zM628.3 152.5h15.7v15.7h-15.7zM297.0 117.0h15.7v15.7h-15.7zM341.5 115.8h15.7v15.7h-15.7zM203.7 147.2h15.7v15.7h-15.7zM203.7 151.2h15.7v15.7h-15.7zM300.6 178.0h15.7v15.7h-15.7zM241.5 203.1h15.7v15.7h-15.7zM338.3 207.4h15.7v15.7h-15.7zM855.4 412.2h15.7v15.7h-15.7zM415.4 299.1h15.7v15.7h-15.7zM426.9 317.0h15.7v15.7h-15.7zM402.8 365.3h15.7v15.7h-15.7zM394.9 377.6h15.7v15.7h-15.7zM405.7 377.6h15.7v15.7h-15.7zM368.9 422.8h15.7v15.7h-15.7z"/>
</g>
<g>
<rect x="1220.2" y="79.4" width="437.79999999999995" height="151.4" fill="#F9EDE2"/>
<rect x="1220.2" y="230.8" width="437.79999999999995" height="230.8" fill="#EEEDF9"/>
<line x1="1220.2" y1="230.8" x2="1658.0" y2="230.8" stroke="#A9A9A9" stroke-width="2" stroke-dasharray="2 4.72" stroke-dashoffset="-3.5"/>
<polyline points="1293.6,179.9 1430.3,184.3 1567.8,158.0" fill="none" stroke="#000" stroke-width="3.9" stroke-linejoin="round"/>
<polyline points="1309.2,241.2 1447.2,240.9 1585,265.3" fill="none" stroke="#000" stroke-width="3.9" stroke-dasharray="13.6 13.2" stroke-linejoin="round"/>
<line x1="1292.9" y1="154.9" x2="1292.9" y2="201.9" stroke="#1B9E77" stroke-width="3.4"/>
<circle cx="1293.40" cy="181.20" r="8.5" fill="#1B9E77"/>
<line x1="1309.9" y1="183.2" x2="1309.9" y2="289.7" stroke="#1B9E77" stroke-width="3.4"/>
<circle cx="1310.50" cy="243.40" r="8.5" fill="#1B9E77"/>
<line x1="1430.3" y1="160.2" x2="1430.3" y2="210.1" stroke="#7570B3" stroke-width="3.4"/>
<path d="M1430.30 171.89 L1440.70 189.90 L1419.90 189.90 Z" fill="#7570B3"/>
<line x1="1447.2" y1="182.3" x2="1447.2" y2="285.8" stroke="#7570B3" stroke-width="3.4"/>
<path d="M1447.20 228.29 L1457.60 246.30 L1436.80 246.30 Z" fill="#7570B3"/>
<line x1="1567.8" y1="95.1" x2="1567.8" y2="213.1" stroke="#D95F02" stroke-width="3.4"/>
<rect x="1559.80" y="149.90" width="16.0" height="16.0" fill="#D95F02"/>
<line x1="1584.9" y1="189.1" x2="1584.9" y2="445.0" stroke="#D95F02" stroke-width="3.4"/>
<rect x="1577.00" y="257.50" width="16.0" height="16.0" fill="#D95F02"/>
<rect x="1220.2" y="79.4" width="437.79999999999995" height="382.20000000000005" fill="none" stroke="#000" stroke-width="2.3"/>
<line x1="1207.9" y1="129.10" x2="1220.2" y2="129.10" stroke="#000" stroke-width="4.2"/>
<text x="1195.4" y="137.40" text-anchor="end" font-size="25" >2</text>
<line x1="1207.9" y1="179.95" x2="1220.2" y2="179.95" stroke="#000" stroke-width="4.2"/>
<text x="1195.4" y="188.25" text-anchor="end" font-size="25" >1</text>
<line x1="1207.9" y1="230.80" x2="1220.2" y2="230.80" stroke="#000" stroke-width="4.2"/>
<text x="1195.4" y="239.10" text-anchor="end" font-size="25" >0</text>
<line x1="1207.9" y1="281.65" x2="1220.2" y2="281.65" stroke="#000" stroke-width="4.2"/>
<text x="1195.4" y="289.95" text-anchor="end" font-size="25" >−1</text>
<line x1="1207.9" y1="332.50" x2="1220.2" y2="332.50" stroke="#000" stroke-width="4.2"/>
<text x="1195.4" y="340.80" text-anchor="end" font-size="25" >−2</text>
<line x1="1207.9" y1="383.35" x2="1220.2" y2="383.35" stroke="#000" stroke-width="4.2"/>
<text x="1195.4" y="391.65" text-anchor="end" font-size="25" >−3</text>
<line x1="1207.9" y1="434.20" x2="1220.2" y2="434.20" stroke="#000" stroke-width="4.2"/>
<text x="1195.4" y="442.50" text-anchor="end" font-size="25" >−4</text>
<line x1="1301.4" y1="461.6" x2="1301.4" y2="473.3" stroke="#000" stroke-width="4.2"/>
<text x="1301.4" y="505.3" text-anchor="middle" font-size="24.9" >Natural</text>
<line x1="1439.0" y1="461.6" x2="1439.0" y2="473.3" stroke="#000" stroke-width="4.2"/>
<text x="1439.0" y="505.3" text-anchor="middle" font-size="24.9" >Managed</text>
<line x1="1576.5" y1="461.6" x2="1576.5" y2="473.3" stroke="#000" stroke-width="4.2"/>
<text x="1576.5" y="505.3" text-anchor="middle" font-size="24.9" >Urban</text>
<text transform="translate(1146.6,270.2) rotate(-90)" text-anchor="middle" font-size="25" >Pollen limitation (PL) effect size</text>
<text x="-0.8" y="30.7" font-size="42" font-weight="bold" >a</text>
<text x="1126" y="30.7" font-size="42" font-weight="bold" >b</text>
<text x="1724.3" y="61.9" font-size="25" >Pollinator dependence</text>
<line x1="1730.1" y1="98.7" x2="1784.9" y2="98.7" stroke="#000" stroke-width="5"/>
<text x="1793.3" y="105.6" font-size="20.75" >Pollinator dependent</text>
<line x1="1730.1" y1="137.6" x2="1784.9" y2="137.6" stroke="#000" stroke-width="5" stroke-dasharray="14 12.9"/>
<text x="1793.3" y="144.9" font-size="20.75" >Autofertile</text>
<text x="1724.3" y="218.2" font-size="25" >Land use</text>
<line x1="1758.3" y1="239.1" x2="1758.3" y2="271.0" stroke="#1B9E77" stroke-width="3.2"/>
<circle cx="1758.30" cy="256.30" r="8.4" fill="#1B9E77"/>
<text x="1776.4" y="263.0" font-size="20.75" >Natural</text>
<line x1="1757.8" y1="278.3" x2="1757.8" y2="309.8" stroke="#7570B3" stroke-width="3.2"/>
<path d="M1757.80 281.88 L1768.30 300.06 L1747.30 300.06 Z" fill="#7570B3"/>
<text x="1776.4" y="299.6" font-size="20.75" >Managed</text>
<line x1="1757.6" y1="317.2" x2="1757.6" y2="348.7" stroke="#D95F02" stroke-width="3.2"/>
<rect x="1749.50" y="325.00" width="16.2" height="16.2" fill="#D95F02"/>
<text x="1776.4" y="340.9" font-size="20.75" >Urban</text>
<text x="1724.3" y="404.1" font-size="25" >Pollen limitation (PL)</text>
<text x="1724.3" y="434.0" font-size="25" >effect size</text>
<rect x="1726.1" y="449.0" width="62.8" height="33.4" fill="#F6D7C0"/>
<rect x="1726.1" y="488.0" width="62.8" height="33.4" fill="#DCDBEC"/>
<text x="1796.6" y="475.1" font-size="20.75" >PL</text>
<text x="1796.6" y="514.0" font-size="20.75" >no PL</text>
</g>
</svg>
</body>
</html>
